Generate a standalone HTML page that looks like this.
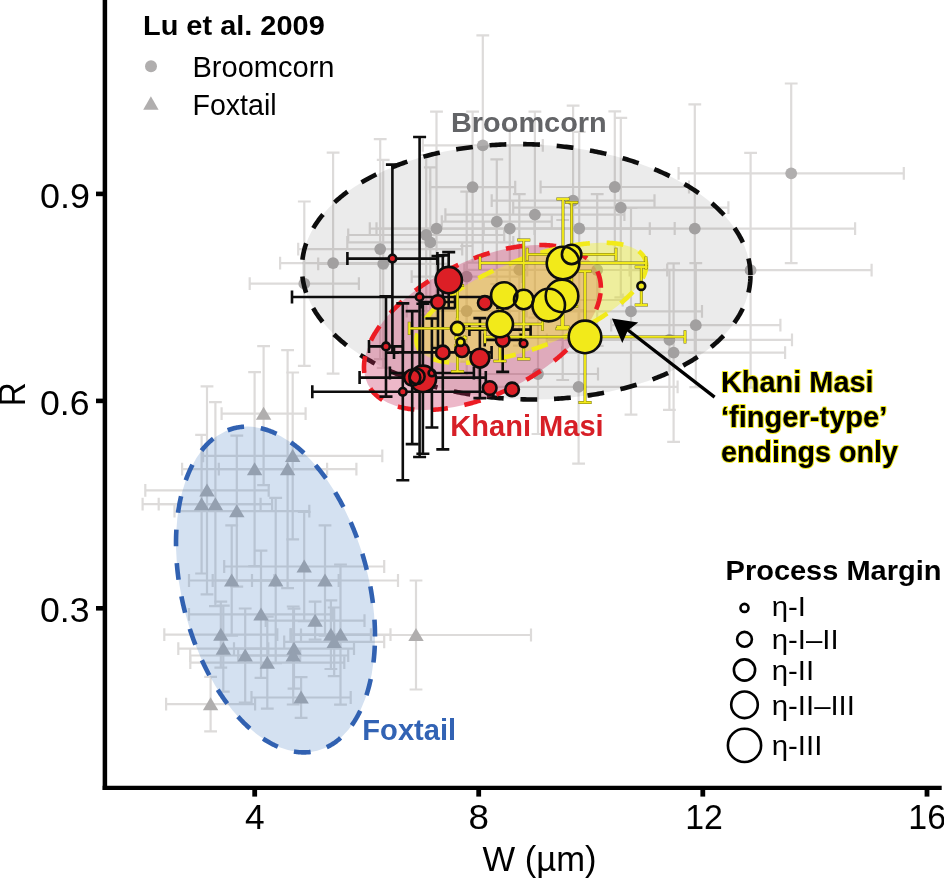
<!DOCTYPE html>
<html><head><meta charset="utf-8"><title>chart</title>
<style>html,body{margin:0;padding:0;background:#fff;overflow:hidden}svg{display:block;will-change:transform}</style>
</head><body>
<svg width="944" height="878" viewBox="0 0 944 878">
<rect width="944" height="878" fill="#fff"/>
<g id="graybars">
<path d="M221.6 413.6H305.6M221.6 407.2v12.8M305.6 407.2v12.8" stroke="#dddbda" stroke-width="2.2" fill="none"/><path d="M263.6 346.1V485.1M257.2 346.1h12.8M257.2 485.1h12.8" stroke="#dddbda" stroke-width="2.2" fill="none"/>
<path d="M182.1 469.2H327.1M182.1 462.8v12.8M327.1 462.8v12.8" stroke="#dddbda" stroke-width="2.2" fill="none"/><path d="M254.6 372.2V566.2M248.2 372.2h12.8M248.2 566.2h12.8" stroke="#dddbda" stroke-width="2.2" fill="none"/>
<path d="M203.1 455.9H382.3M203.1 449.5v12.8M382.3 449.5v12.8" stroke="#dddbda" stroke-width="2.2" fill="none"/><path d="M292.7 372.5V539.3M286.3 372.5h12.8M286.3 539.3h12.8" stroke="#dddbda" stroke-width="2.2" fill="none"/>
<path d="M218.8 469.2H356.4M218.8 462.8v12.8M356.4 462.8v12.8" stroke="#dddbda" stroke-width="2.2" fill="none"/><path d="M287.6 350.2V588.2M281.2 350.2h12.8M281.2 588.2h12.8" stroke="#dddbda" stroke-width="2.2" fill="none"/>
<path d="M145.3 490.3H268.7M145.3 483.9v12.8M268.7 483.9v12.8" stroke="#dddbda" stroke-width="2.2" fill="none"/><path d="M207.0 386.3V594.3M200.6 386.3h12.8M200.6 594.3h12.8" stroke="#dddbda" stroke-width="2.2" fill="none"/>
<path d="M142.6 504.2H260.6M142.6 497.8v12.8M260.6 497.8v12.8" stroke="#dddbda" stroke-width="2.2" fill="none"/><path d="M201.6 434.9V573.5M195.2 434.9h12.8M195.2 573.5h12.8" stroke="#dddbda" stroke-width="2.2" fill="none"/>
<path d="M158.7 504.2H272.1M158.7 497.8v12.8M272.1 497.8v12.8" stroke="#dddbda" stroke-width="2.2" fill="none"/><path d="M215.4 402.2V606.2M209.0 402.2h12.8M209.0 606.2h12.8" stroke="#dddbda" stroke-width="2.2" fill="none"/>
<path d="M174.5 511.1H309.3M174.5 504.7v12.8M309.3 504.7v12.8" stroke="#dddbda" stroke-width="2.2" fill="none"/><path d="M236.8 435.6V586.6M230.4 435.6h12.8M230.4 586.6h12.8" stroke="#dddbda" stroke-width="2.2" fill="none"/>
<path d="M224.2 566.5H384.2M224.2 560.1v12.8M384.2 560.1v12.8" stroke="#dddbda" stroke-width="2.2" fill="none"/><path d="M304.2 511.9V621.1M297.8 511.9h12.8M297.8 621.1h12.8" stroke="#dddbda" stroke-width="2.2" fill="none"/>
<path d="M189.0 580.5H274.4M189.0 574.1v12.8M274.4 574.1v12.8" stroke="#dddbda" stroke-width="2.2" fill="none"/><path d="M231.7 525.3V635.7M225.3 525.3h12.8M225.3 635.7h12.8" stroke="#dddbda" stroke-width="2.2" fill="none"/>
<path d="M212.7 580.5H338.7M212.7 574.1v12.8M338.7 574.1v12.8" stroke="#dddbda" stroke-width="2.2" fill="none"/><path d="M275.7 497.9V663.1M269.3 497.9h12.8M269.3 663.1h12.8" stroke="#dddbda" stroke-width="2.2" fill="none"/>
<path d="M252.0 580.5H398.0M252.0 574.1v12.8M398.0 574.1v12.8" stroke="#dddbda" stroke-width="2.2" fill="none"/><path d="M325.0 525.3V635.7M318.6 525.3h12.8M318.6 635.7h12.8" stroke="#dddbda" stroke-width="2.2" fill="none"/>
<path d="M189.0 614.3H333.0M189.0 607.9v12.8M333.0 607.9v12.8" stroke="#dddbda" stroke-width="2.2" fill="none"/><path d="M261.0 550.7V677.9M254.6 550.7h12.8M254.6 677.9h12.8" stroke="#dddbda" stroke-width="2.2" fill="none"/>
<path d="M265.7 620.7H364.5M265.7 614.3v12.8M364.5 614.3v12.8" stroke="#dddbda" stroke-width="2.2" fill="none"/><path d="M315.1 601.7V639.7M308.7 601.7h12.8M308.7 639.7h12.8" stroke="#dddbda" stroke-width="2.2" fill="none"/>
<path d="M164.3 634.7H277.3M164.3 628.3v12.8M277.3 628.3v12.8" stroke="#dddbda" stroke-width="2.2" fill="none"/><path d="M220.8 601.7V667.7M214.4 601.7h12.8M214.4 667.7h12.8" stroke="#dddbda" stroke-width="2.2" fill="none"/>
<path d="M290.9 634.7H370.9M290.9 628.3v12.8M370.9 628.3v12.8" stroke="#dddbda" stroke-width="2.2" fill="none"/><path d="M330.9 600.4V669.0M324.5 600.4h12.8M324.5 669.0h12.8" stroke="#dddbda" stroke-width="2.2" fill="none"/>
<path d="M290.5 634.7H390.5M290.5 628.3v12.8M390.5 628.3v12.8" stroke="#dddbda" stroke-width="2.2" fill="none"/><path d="M340.5 564.7V704.7M334.1 564.7h12.8M334.1 704.7h12.8" stroke="#dddbda" stroke-width="2.2" fill="none"/>
<path d="M284.2 641.8H384.2M284.2 635.4v12.8M384.2 635.4v12.8" stroke="#dddbda" stroke-width="2.2" fill="none"/><path d="M334.2 607.5V676.1M327.8 607.5h12.8M327.8 676.1h12.8" stroke="#dddbda" stroke-width="2.2" fill="none"/>
<path d="M178.3 648.7H268.3M178.3 642.3v12.8M268.3 642.3v12.8" stroke="#dddbda" stroke-width="2.2" fill="none"/><path d="M223.3 605.7V691.7M216.9 605.7h12.8M216.9 691.7h12.8" stroke="#dddbda" stroke-width="2.2" fill="none"/>
<path d="M190.2 655.5H300.2M190.2 649.1v12.8M300.2 649.1v12.8" stroke="#dddbda" stroke-width="2.2" fill="none"/><path d="M245.2 608.5V702.5M238.8 608.5h12.8M238.8 702.5h12.8" stroke="#dddbda" stroke-width="2.2" fill="none"/>
<path d="M234.0 648.7H354.0M234.0 642.3v12.8M354.0 642.3v12.8" stroke="#dddbda" stroke-width="2.2" fill="none"/><path d="M294.0 608.7V688.7M287.6 608.7h12.8M287.6 688.7h12.8" stroke="#dddbda" stroke-width="2.2" fill="none"/>
<path d="M238.2 655.5H348.2M238.2 649.1v12.8M348.2 649.1v12.8" stroke="#dddbda" stroke-width="2.2" fill="none"/><path d="M293.2 606.5V704.5M286.8 606.5h12.8M286.8 704.5h12.8" stroke="#dddbda" stroke-width="2.2" fill="none"/>
<path d="M190.3 662.6H344.3M190.3 656.2v12.8M344.3 656.2v12.8" stroke="#dddbda" stroke-width="2.2" fill="none"/><path d="M267.3 616.6V708.6M260.9 616.6h12.8M260.9 708.6h12.8" stroke="#dddbda" stroke-width="2.2" fill="none"/>
<path d="M251.5 697.5H350.7M251.5 691.1v12.8M350.7 691.1v12.8" stroke="#dddbda" stroke-width="2.2" fill="none"/><path d="M301.1 677.2V717.8M294.7 677.2h12.8M294.7 717.8h12.8" stroke="#dddbda" stroke-width="2.2" fill="none"/>
<path d="M166.1 704.1H255.1M166.1 697.7v12.8M255.1 697.7v12.8" stroke="#dddbda" stroke-width="2.2" fill="none"/><path d="M210.6 676.8V731.4M204.2 676.8h12.8M204.2 731.4h12.8" stroke="#dddbda" stroke-width="2.2" fill="none"/>
<path d="M301.0 635.0H531.0M301.0 628.6v12.8M531.0 628.6v12.8" stroke="#dddbda" stroke-width="2.2" fill="none"/><path d="M416.0 580.5V689.5M409.6 580.5h12.8M409.6 689.5h12.8" stroke="#dddbda" stroke-width="2.2" fill="none"/>
<path d="M422.8 145.4H542.8M422.8 139.0v12.8M542.8 139.0v12.8" stroke="#dddbda" stroke-width="2.2" fill="none"/><path d="M482.8 35.4V255.4M476.4 35.4h12.8M476.4 255.4h12.8" stroke="#dddbda" stroke-width="2.2" fill="none"/>
<path d="M430.0 187.1H515.2M430.0 180.7v12.8M515.2 180.7v12.8" stroke="#dddbda" stroke-width="2.2" fill="none"/><path d="M472.6 111.6V262.6M466.2 111.6h12.8M466.2 262.6h12.8" stroke="#dddbda" stroke-width="2.2" fill="none"/>
<path d="M441.8 221.7H551.8M441.8 215.3v12.8M551.8 215.3v12.8" stroke="#dddbda" stroke-width="2.2" fill="none"/><path d="M496.8 159.4V284.0M490.4 159.4h12.8M490.4 284.0h12.8" stroke="#dddbda" stroke-width="2.2" fill="none"/>
<path d="M369.8 228.6H649.8M369.8 222.2v12.8M649.8 222.2v12.8" stroke="#dddbda" stroke-width="2.2" fill="none"/><path d="M509.8 128.6V328.6M503.4 128.6h12.8M503.4 328.6h12.8" stroke="#dddbda" stroke-width="2.2" fill="none"/>
<path d="M376.5 228.6H496.5M376.5 222.2v12.8M496.5 222.2v12.8" stroke="#dddbda" stroke-width="2.2" fill="none"/><path d="M436.5 111.6V345.6M430.1 111.6h12.8M430.1 345.6h12.8" stroke="#dddbda" stroke-width="2.2" fill="none"/>
<path d="M348.2 235.0H504.2M348.2 228.6v12.8M504.2 228.6v12.8" stroke="#dddbda" stroke-width="2.2" fill="none"/><path d="M426.2 155.0V315.0M419.8 155.0h12.8M419.8 315.0h12.8" stroke="#dddbda" stroke-width="2.2" fill="none"/>
<path d="M347.3 242.4H513.3M347.3 236.0v12.8M513.3 236.0v12.8" stroke="#dddbda" stroke-width="2.2" fill="none"/><path d="M430.3 167.4V317.4M423.9 167.4h12.8M423.9 317.4h12.8" stroke="#dddbda" stroke-width="2.2" fill="none"/>
<path d="M298.2 249.1H462.2M298.2 242.7v12.8M462.2 242.7v12.8" stroke="#dddbda" stroke-width="2.2" fill="none"/><path d="M380.2 139.1V359.1M373.8 139.1h12.8M373.8 359.1h12.8" stroke="#dddbda" stroke-width="2.2" fill="none"/>
<path d="M318.2 263.9H448.2M318.2 257.5v12.8M448.2 257.5v12.8" stroke="#dddbda" stroke-width="2.2" fill="none"/><path d="M383.2 159.9V367.9M376.8 159.9h12.8M376.8 367.9h12.8" stroke="#dddbda" stroke-width="2.2" fill="none"/>
<path d="M280.1 263.1H386.1M280.1 256.7v12.8M386.1 256.7v12.8" stroke="#dddbda" stroke-width="2.2" fill="none"/><path d="M333.1 152.6V373.6M326.7 152.6h12.8M326.7 373.6h12.8" stroke="#dddbda" stroke-width="2.2" fill="none"/>
<path d="M249.7 283.7H358.9M249.7 277.3v12.8M358.9 277.3v12.8" stroke="#dddbda" stroke-width="2.2" fill="none"/><path d="M304.3 201.5V365.9M297.9 201.5h12.8M297.9 365.9h12.8" stroke="#dddbda" stroke-width="2.2" fill="none"/>
<path d="M411.7 276.6H521.7M411.7 270.2v12.8M521.7 270.2v12.8" stroke="#dddbda" stroke-width="2.2" fill="none"/><path d="M466.7 191.6V361.6M460.3 191.6h12.8M460.3 361.6h12.8" stroke="#dddbda" stroke-width="2.2" fill="none"/>
<path d="M406.7 311.0H526.7M406.7 304.6v12.8M526.7 304.6v12.8" stroke="#dddbda" stroke-width="2.2" fill="none"/><path d="M466.7 246.0V376.0M460.3 246.0h12.8M460.3 376.0h12.8" stroke="#dddbda" stroke-width="2.2" fill="none"/>
<path d="M464.3 269.9H574.3M464.3 263.5v12.8M574.3 263.5v12.8" stroke="#dddbda" stroke-width="2.2" fill="none"/><path d="M519.3 194.2V345.6M512.9 194.2h12.8M512.9 345.6h12.8" stroke="#dddbda" stroke-width="2.2" fill="none"/>
<path d="M445.4 214.6H624.4M445.4 208.2v12.8M624.4 208.2v12.8" stroke="#dddbda" stroke-width="2.2" fill="none"/><path d="M534.9 111.6V317.6M528.5 111.6h12.8M528.5 317.6h12.8" stroke="#dddbda" stroke-width="2.2" fill="none"/>
<path d="M491.7 200.6H654.5M491.7 194.2v12.8M654.5 194.2v12.8" stroke="#dddbda" stroke-width="2.2" fill="none"/><path d="M573.1 105.6V295.6M566.7 105.6h12.8M566.7 295.6h12.8" stroke="#dddbda" stroke-width="2.2" fill="none"/>
<path d="M483.7 228.5H674.7M483.7 222.1v12.8M674.7 222.1v12.8" stroke="#dddbda" stroke-width="2.2" fill="none"/><path d="M579.2 131.9V325.1M572.8 131.9h12.8M572.8 325.1h12.8" stroke="#dddbda" stroke-width="2.2" fill="none"/>
<path d="M540.6 187.0H689.0M540.6 180.6v12.8M689.0 180.6v12.8" stroke="#dddbda" stroke-width="2.2" fill="none"/><path d="M614.8 111.4V262.6M608.4 111.4h12.8M608.4 262.6h12.8" stroke="#dddbda" stroke-width="2.2" fill="none"/>
<path d="M513.2 207.6H728.4M513.2 201.2v12.8M728.4 201.2v12.8" stroke="#dddbda" stroke-width="2.2" fill="none"/><path d="M620.8 117.8V297.4M614.4 117.8h12.8M614.4 297.4h12.8" stroke="#dddbda" stroke-width="2.2" fill="none"/>
<path d="M534.5 228.6H855.1M534.5 222.2v12.8M855.1 222.2v12.8" stroke="#dddbda" stroke-width="2.2" fill="none"/><path d="M694.8 104.4V352.8M688.4 104.4h12.8M688.4 352.8h12.8" stroke="#dddbda" stroke-width="2.2" fill="none"/>
<path d="M678.6 173.3H903.8M678.6 166.9v12.8M903.8 166.9v12.8" stroke="#dddbda" stroke-width="2.2" fill="none"/><path d="M791.2 83.5V263.1M784.8 83.5h12.8M784.8 263.1h12.8" stroke="#dddbda" stroke-width="2.2" fill="none"/>
<path d="M629.6 270.2H871.6M629.6 263.8v12.8M871.6 263.8v12.8" stroke="#dddbda" stroke-width="2.2" fill="none"/><path d="M750.6 152.8V387.6M744.2 152.8h12.8M744.2 387.6h12.8" stroke="#dddbda" stroke-width="2.2" fill="none"/>
<path d="M560.0 311.3H702.0M560.0 304.9v12.8M702.0 304.9v12.8" stroke="#dddbda" stroke-width="2.2" fill="none"/><path d="M631.0 208.0V414.6M624.6 208.0h12.8M624.6 414.6h12.8" stroke="#dddbda" stroke-width="2.2" fill="none"/>
<path d="M611.2 325.2H780.4M611.2 318.8v12.8M780.4 318.8v12.8" stroke="#dddbda" stroke-width="2.2" fill="none"/><path d="M695.8 263.2V387.2M689.4 263.2h12.8M689.4 387.2h12.8" stroke="#dddbda" stroke-width="2.2" fill="none"/>
<path d="M546.8 339.8H792.0M546.8 333.4v12.8M792.0 333.4v12.8" stroke="#dddbda" stroke-width="2.2" fill="none"/><path d="M669.4 269.8V409.8M663.0 269.8h12.8M663.0 409.8h12.8" stroke="#dddbda" stroke-width="2.2" fill="none"/>
<path d="M562.1 352.6H785.1M562.1 346.2v12.8M785.1 346.2v12.8" stroke="#dddbda" stroke-width="2.2" fill="none"/><path d="M673.6 263.4V441.8M667.2 263.4h12.8M667.2 441.8h12.8" stroke="#dddbda" stroke-width="2.2" fill="none"/>
<path d="M479.6 386.9H677.6M479.6 380.5v12.8M677.6 380.5v12.8" stroke="#dddbda" stroke-width="2.2" fill="none"/><path d="M578.6 310.2V463.6M572.2 310.2h12.8M572.2 463.6h12.8" stroke="#dddbda" stroke-width="2.2" fill="none"/>
<path d="M478.0 374.0H598.0M478.0 367.6v12.8M598.0 367.6v12.8" stroke="#dddbda" stroke-width="2.2" fill="none"/><path d="M538.0 314.0V434.0M531.6 314.0h12.8M531.6 434.0h12.8" stroke="#dddbda" stroke-width="2.2" fill="none"/>
<path d="M502.7 300.0H622.7M502.7 293.6v12.8M622.7 293.6v12.8" stroke="#dddbda" stroke-width="2.2" fill="none"/><path d="M562.7 220.0V380.0M556.3 220.0h12.8M556.3 380.0h12.8" stroke="#dddbda" stroke-width="2.2" fill="none"/>
<path d="M527.2 270.0H667.2M527.2 263.6v12.8M667.2 263.6v12.8" stroke="#dddbda" stroke-width="2.2" fill="none"/><path d="M597.2 194.2V345.8M590.8 194.2h12.8M590.8 345.8h12.8" stroke="#dddbda" stroke-width="2.2" fill="none"/>
</g>
<g id="graypts">
<path d="M263.6 406.7L271.3 419.7H255.9Z" fill="#b0aeae"/>
<path d="M254.6 462.3L262.3 475.3H246.9Z" fill="#b0aeae"/>
<path d="M292.7 449.0L300.4 462.0H285.0Z" fill="#b0aeae"/>
<path d="M287.6 462.3L295.3 475.3H279.9Z" fill="#b0aeae"/>
<path d="M207.0 483.4L214.7 496.4H199.3Z" fill="#b0aeae"/>
<path d="M201.6 497.3L209.3 510.3H193.9Z" fill="#b0aeae"/>
<path d="M215.4 497.3L223.1 510.3H207.7Z" fill="#b0aeae"/>
<path d="M236.8 504.2L244.5 517.2H229.1Z" fill="#b0aeae"/>
<path d="M304.2 559.6L311.9 572.6H296.5Z" fill="#b0aeae"/>
<path d="M231.7 573.6L239.4 586.6H224.0Z" fill="#b0aeae"/>
<path d="M275.7 573.6L283.4 586.6H268.0Z" fill="#b0aeae"/>
<path d="M325.0 573.6L332.7 586.6H317.3Z" fill="#b0aeae"/>
<path d="M261.0 607.4L268.7 620.4H253.3Z" fill="#b0aeae"/>
<path d="M315.1 613.8L322.8 626.8H307.4Z" fill="#b0aeae"/>
<path d="M220.8 627.8L228.5 640.8H213.1Z" fill="#b0aeae"/>
<path d="M330.9 627.8L338.6 640.8H323.2Z" fill="#b0aeae"/>
<path d="M340.5 627.8L348.2 640.8H332.8Z" fill="#b0aeae"/>
<path d="M334.2 634.9L341.9 647.9H326.5Z" fill="#b0aeae"/>
<path d="M223.3 641.8L231.0 654.8H215.6Z" fill="#b0aeae"/>
<path d="M245.2 648.6L252.9 661.6H237.5Z" fill="#b0aeae"/>
<path d="M294.0 641.8L301.7 654.8H286.3Z" fill="#b0aeae"/>
<path d="M293.2 648.6L300.9 661.6H285.5Z" fill="#b0aeae"/>
<path d="M267.3 655.7L275.0 668.7H259.6Z" fill="#b0aeae"/>
<path d="M301.1 690.6L308.8 703.6H293.4Z" fill="#b0aeae"/>
<path d="M210.6 697.2L218.3 710.2H202.9Z" fill="#b0aeae"/>
<path d="M416.0 628.1L423.7 641.1H408.3Z" fill="#b0aeae"/>
<circle cx="482.8" cy="145.4" r="5.9" fill="#b0aeae"/>
<circle cx="472.6" cy="187.1" r="5.9" fill="#b0aeae"/>
<circle cx="496.8" cy="221.7" r="5.9" fill="#b0aeae"/>
<circle cx="509.8" cy="228.6" r="5.9" fill="#b0aeae"/>
<circle cx="436.5" cy="228.6" r="5.9" fill="#b0aeae"/>
<circle cx="426.2" cy="235.0" r="5.9" fill="#b0aeae"/>
<circle cx="430.3" cy="242.4" r="5.9" fill="#b0aeae"/>
<circle cx="380.2" cy="249.1" r="5.9" fill="#b0aeae"/>
<circle cx="383.2" cy="263.9" r="5.9" fill="#b0aeae"/>
<circle cx="333.1" cy="263.1" r="5.9" fill="#b0aeae"/>
<circle cx="304.3" cy="283.7" r="5.9" fill="#b0aeae"/>
<circle cx="466.7" cy="276.6" r="5.9" fill="#b0aeae"/>
<circle cx="466.7" cy="311.0" r="5.9" fill="#b0aeae"/>
<circle cx="519.3" cy="269.9" r="5.9" fill="#b0aeae"/>
<circle cx="534.9" cy="214.6" r="5.9" fill="#b0aeae"/>
<circle cx="573.1" cy="200.6" r="5.9" fill="#b0aeae"/>
<circle cx="579.2" cy="228.5" r="5.9" fill="#b0aeae"/>
<circle cx="614.8" cy="187.0" r="5.9" fill="#b0aeae"/>
<circle cx="620.8" cy="207.6" r="5.9" fill="#b0aeae"/>
<circle cx="694.8" cy="228.6" r="5.9" fill="#b0aeae"/>
<circle cx="791.2" cy="173.3" r="5.9" fill="#b0aeae"/>
<circle cx="750.6" cy="270.2" r="5.9" fill="#b0aeae"/>
<circle cx="631.0" cy="311.3" r="5.9" fill="#b0aeae"/>
<circle cx="695.8" cy="325.2" r="5.9" fill="#b0aeae"/>
<circle cx="669.4" cy="339.8" r="5.9" fill="#b0aeae"/>
<circle cx="673.6" cy="352.6" r="5.9" fill="#b0aeae"/>
<circle cx="578.6" cy="386.9" r="5.9" fill="#b0aeae"/>
<circle cx="538.0" cy="374.0" r="5.9" fill="#b0aeae"/>
<circle cx="562.7" cy="300.0" r="5.9" fill="#b0aeae"/>
<circle cx="597.2" cy="270.0" r="5.9" fill="#b0aeae"/>
</g>
<g id="ell">
<ellipse cx="275.5" cy="589.5" rx="166.5" ry="93.3" transform="rotate(75.5 275.5 589.5)" fill="#2a6ab8" fill-opacity="0.2"/>
<path d="M374.98 636.45L374.98 635.09L374.98 633.72L374.96 632.35L374.94 630.98L374.91 629.61L374.87 628.23L374.82 626.84L374.77 625.46L374.71 624.07L374.64 622.68L374.56 621.29L374.48 619.89L374.39 618.50L374.29 617.10L374.18 615.69L374.07 614.29L373.95 612.88L373.82 611.48L373.68 610.07L373.54 608.66L373.39 607.24L373.23 605.83L373.06 604.42L372.89 603.00L372.71 601.58L372.52 600.16L372.33 598.75L372.12 597.33L371.91 595.91L371.69 594.49L371.47 593.07L371.24 591.64L371.00 590.22L370.75 588.80L370.50 587.38L370.24 585.96L369.97 584.54L369.69 583.12L369.41 581.70L369.12 580.28L368.82 578.86L368.52 577.44L368.20 576.02L367.89 574.61L367.56 573.19L367.23 571.78L366.89 570.37L366.54 568.96L366.19 567.55L365.83 566.14L365.46 564.73L365.09 563.33L364.71 561.93L364.32 560.53L363.92 559.13L363.52 557.74L363.11 556.34L362.70 554.95L362.28 553.56L361.85 552.18L361.42 550.80L360.98 549.42L360.53 548.04L360.07 546.67L359.61 545.30L359.15 543.93L358.67 542.57L358.19 541.21L357.71 539.85L357.22 538.50L356.72 537.15L356.21 535.81L355.70 534.47L355.19 533.14L354.66 531.80L354.14 530.48L353.60 529.15L353.06 527.84L352.51 526.52L351.96 525.21L351.40 523.91L350.84 522.61L350.27 521.32L349.69 520.03L349.11 518.75L348.52 517.47L347.93 516.20L347.33 514.93L346.73 513.67L346.12 512.42L345.51 511.17L344.89 509.92L344.26 508.69L343.63 507.46L343.00 506.23L342.36 505.01L341.71 503.80L341.06 502.59L340.41 501.40L339.75 500.20L339.08 499.02L338.41 497.84L337.74 496.67L337.06 495.50L336.37 494.35L335.68 493.20L334.99 492.05L334.29 490.92L333.59 489.79L332.88 488.67L332.17 487.56L331.46 486.45L330.74 485.36L330.01 484.27L329.28 483.19L328.55 482.11L327.81 481.05L327.07 479.99L326.33 478.95L325.58 477.91L324.83 476.87L324.07 475.85L323.31 474.84L322.55 473.83L321.78 472.84L321.01 471.85L320.24 470.87L319.46 469.90L318.68 468.94L317.90 467.99L317.11 467.05L316.32 466.12L315.53 465.19L314.73 464.28L313.93 463.37L313.13 462.48L312.33 461.59L311.52 460.72L310.71 459.85L309.89 459.00L309.08 458.15L308.26 457.32L307.44 456.49L306.61 455.68L305.79 454.87L304.96 454.08L304.13 453.29L303.30 452.52L302.46 451.75L301.63 451.00L300.79 450.26L299.95 449.53L299.11 448.80L298.26 448.09L297.41 447.39L296.57 446.70L295.72 446.03L294.87 445.36L294.01 444.70L293.16 444.06L292.31 443.42L291.45 442.80L290.59 442.19L289.73 441.59L288.87 441.00L288.01 440.42L287.15 439.85L286.29 439.30L285.43 438.75L284.56 438.22L283.70 437.70L282.83 437.19L281.96 436.69L281.10 436.20L280.23 435.73L279.36 435.27L278.50 434.82L277.63 434.38L276.76 433.95L275.89 433.53L275.02 433.13L274.16 432.74L273.29 432.36L272.42 431.99L271.55 431.63L270.68 431.29L269.82 430.96L268.95 430.64L268.09 430.33L267.22 430.04L266.36 429.75L265.49 429.48L264.63 429.22L263.77 428.97L262.90 428.74L262.04 428.52L261.18 428.31L260.32 428.11L259.47 427.92L258.61 427.75L257.76 427.59L256.90 427.44L256.05 427.30L255.20 427.18L254.35 427.07L253.50 426.97L252.66 426.88L251.81 426.81L250.97 426.75L250.13 426.70L249.29 426.66L248.46 426.63L247.62 426.62L246.79 426.62L245.96 426.63L245.13 426.66L244.31 426.70L243.48 426.74L242.66 426.81L241.84 426.88L241.03 426.97L240.21 427.07L239.40 427.18L238.60 427.30L237.79 427.44L236.99 427.59L236.19 427.75L235.39 427.92L234.60 428.11L233.81 428.30L233.03 428.51L232.24 428.74L231.46 428.97L230.68 429.22L229.91 429.48L229.14 429.75L228.38 430.03L227.61 430.33L226.85 430.63L226.10 430.95L225.35 431.28L224.60 431.63L223.85 431.98L223.11 432.35L222.38 432.73L221.65 433.12L220.92 433.53L220.19 433.94L219.48 434.37L218.76 434.81L218.05 435.26L217.34 435.72L216.64 436.20L215.94 436.68L215.25 437.18L214.56 437.69L213.88 438.21L213.20 438.74L212.52 439.29L211.85 439.84L211.19 440.41L210.53 440.99L209.87 441.58L209.22 442.18L208.58 442.79L207.94 443.41L207.30 444.05L206.67 444.69L206.05 445.35L205.43 446.01L204.82 446.69L204.21 447.38L203.61 448.08L203.01 448.79L202.42 449.51L201.83 450.25L201.25 450.99L200.68 451.74L200.11 452.50L199.54 453.28L198.99 454.06L198.43 454.86L197.89 455.66L197.35 456.48L196.81 457.30L196.28 458.14L195.76 458.98L195.25 459.84L194.74 460.70L194.23 461.58L193.74 462.46L193.24 463.36L192.76 464.26L192.28 465.18L191.81 466.10L191.34 467.03L190.88 467.97L190.43 468.92L189.98 469.89L189.54 470.85L189.11 471.83L188.68 472.82L188.26 473.82L187.85 474.82L187.44 475.84L187.04 476.86L186.64 477.89L186.26 478.93L185.88 479.98L185.50 481.03L185.14 482.10L184.78 483.17L184.42 484.25L184.08 485.34L183.74 486.44L183.41 487.54L183.08 488.65L182.76 489.77L182.45 490.90L182.15 492.04L181.85 493.18L181.56 494.33L181.28 495.48L181.01 496.65L180.74 497.82L180.48 499.00L180.22 500.18L179.98 501.38L179.74 502.57L179.51 503.78L179.28 504.99L179.07 506.21L178.86 507.43L178.65 508.67L178.46 509.90L178.27 511.15L178.09 512.40L177.92 513.65L177.75 514.91L177.60 516.18L177.45 517.45L177.30 518.73L177.17 520.01L177.04 521.30L176.92 522.59L176.81 523.89L176.70 525.19L176.60 526.50L176.51 527.81L176.43 529.13L176.35 530.45L176.29 531.78L176.23 533.11L176.17 534.45L176.13 535.79L176.09 537.13L176.06 538.48L176.04 539.83L176.02 541.19L176.02 542.55L176.02 543.91L176.02 545.28L176.04 546.65L176.06 548.02L176.09 549.39L176.13 550.77L176.18 552.16L176.23 553.54L176.29 554.93L176.36 556.32L176.44 557.71L176.52 559.11L176.61 560.50L176.71 561.90L176.82 563.31L176.93 564.71L177.05 566.12L177.18 567.52L177.32 568.93L177.46 570.34L177.61 571.76L177.77 573.17L177.94 574.58L178.11 576.00L178.29 577.42L178.48 578.84L178.67 580.25L178.88 581.67L179.09 583.09L179.31 584.51L179.53 585.93L179.76 587.36L180.00 588.78L180.25 590.20L180.50 591.62L180.76 593.04L181.03 594.46L181.31 595.88L181.59 597.30L181.88 598.72L182.18 600.14L182.48 601.56L182.80 602.98L183.11 604.39L183.44 605.81L183.77 607.22L184.11 608.63L184.46 610.04L184.81 611.45L185.17 612.86L185.54 614.27L185.91 615.67L186.29 617.07L186.68 618.47L187.08 619.87L187.48 621.26L187.89 622.66L188.30 624.05L188.72 625.44L189.15 626.82L189.58 628.20L190.02 629.58L190.47 630.96L190.93 632.33L191.39 633.70L191.85 635.07L192.33 636.43L192.81 637.79L193.29 639.15L193.78 640.50L194.28 641.85L194.79 643.19L195.30 644.53L195.81 645.86L196.34 647.20L196.86 648.52L197.40 649.85L197.94 651.16L198.49 652.48L199.04 653.79L199.60 655.09L200.16 656.39L200.73 657.68L201.31 658.97L201.89 660.25L202.48 661.53L203.07 662.80L203.67 664.07L204.27 665.33L204.88 666.58L205.49 667.83L206.11 669.08L206.74 670.31L207.37 671.54L208.00 672.77L208.64 673.99L209.29 675.20L209.94 676.41L210.59 677.60L211.25 678.80L211.92 679.98L212.59 681.16L213.26 682.33L213.94 683.50L214.63 684.65L215.32 685.80L216.01 686.95L216.71 688.08L217.41 689.21L218.12 690.33L218.83 691.44L219.54 692.55L220.26 693.64L220.99 694.73L221.72 695.81L222.45 696.89L223.19 697.95L223.93 699.01L224.67 700.05L225.42 701.09L226.17 702.13L226.93 703.15L227.69 704.16L228.45 705.17L229.22 706.16L229.99 707.15L230.76 708.13L231.54 709.10L232.32 710.06L233.10 711.01L233.89 711.95L234.68 712.88L235.47 713.81L236.27 714.72L237.07 715.63L237.87 716.52L238.67 717.41L239.48 718.28L240.29 719.15L241.11 720.00L241.92 720.85L242.74 721.68L243.56 722.51L244.39 723.32L245.21 724.13L246.04 724.92L246.87 725.71L247.70 726.48L248.54 727.25L249.37 728.00L250.21 728.74L251.05 729.47L251.89 730.20L252.74 730.91L253.59 731.61L254.43 732.30L255.28 732.97L256.13 733.64L256.99 734.30L257.84 734.94L258.69 735.58L259.55 736.20L260.41 736.81L261.27 737.41L262.13 738.00L262.99 738.58L263.85 739.15L264.71 739.70L265.57 740.25L266.44 740.78L267.30 741.30L268.17 741.81L269.04 742.31L269.90 742.80L270.77 743.27L271.64 743.73L272.50 744.18L273.37 744.62L274.24 745.05L275.11 745.47L275.98 745.87L276.84 746.26L277.71 746.64L278.58 747.01L279.45 747.37L280.32 747.71L281.18 748.04L282.05 748.36L282.91 748.67L283.78 748.96L284.64 749.25L285.51 749.52L286.37 749.78L287.23 750.03L288.10 750.26L288.96 750.48L289.82 750.69L290.68 750.89L291.53 751.08L292.39 751.25L293.24 751.41L294.10 751.56L294.95 751.70L295.80 751.82L296.65 751.93L297.50 752.03L298.34 752.12L299.19 752.19L300.03 752.25L300.87 752.30L301.71 752.34L302.54 752.37L303.38 752.38L304.21 752.38L305.04 752.37L305.87 752.34L306.69 752.30L307.52 752.26L308.34 752.19L309.16 752.12L309.97 752.03L310.79 751.93L311.60 751.82L312.40 751.70L313.21 751.56L314.01 751.41L314.81 751.25L315.61 751.08L316.40 750.89L317.19 750.70L317.97 750.49L318.76 750.26L319.54 750.03L320.32 749.78L321.09 749.52L321.86 749.25L322.62 748.97L323.39 748.67L324.15 748.37L324.90 748.05L325.65 747.72L326.40 747.37L327.15 747.02L327.89 746.65L328.62 746.27L329.35 745.88L330.08 745.47L330.81 745.06L331.52 744.63L332.24 744.19L332.95 743.74L333.66 743.28L334.36 742.80L335.06 742.32L335.75 741.82L336.44 741.31L337.12 740.79L337.80 740.26L338.48 739.71L339.15 739.16L339.81 738.59L340.47 738.01L341.13 737.42L341.78 736.82L342.42 736.21L343.06 735.59L343.70 734.95L344.33 734.31L344.95 733.65L345.57 732.99L346.18 732.31L346.79 731.62L347.39 730.92L347.99 730.21L348.58 729.49L349.17 728.75L349.75 728.01L350.32 727.26L350.89 726.50L351.46 725.72L352.01 724.94L352.57 724.14L353.11 723.34L353.65 722.52L354.19 721.70L354.72 720.86L355.24 720.02L355.75 719.16L356.26 718.30L356.77 717.42L357.26 716.54L357.76 715.64L358.24 714.74L358.72 713.82L359.19 712.90L359.66 711.97L360.12 711.03L360.57 710.08L361.02 709.11L361.46 708.15L361.89 707.17L362.32 706.18L362.74 705.18L363.15 704.18L363.56 703.16L363.96 702.14L364.36 701.11L364.74 700.07L365.12 699.02L365.50 697.97L365.86 696.90L366.22 695.83L366.58 694.75L366.92 693.66L367.26 692.56L367.59 691.46L367.92 690.35L368.24 689.23L368.55 688.10L368.85 686.96L369.15 685.82L369.44 684.67L369.72 683.52L369.99 682.35L370.26 681.18L370.52 680.00L370.78 678.82L371.02 677.62L371.26 676.43L371.49 675.22L371.72 674.01L371.93 672.79L372.14 671.57L372.35 670.33L372.54 669.10L372.73 667.85L372.91 666.60L373.08 665.35L373.25 664.09L373.40 662.82L373.55 661.55L373.70 660.27L373.83 658.99L373.96 657.70L374.08 656.41L374.19 655.11L374.30 653.81L374.40 652.50L374.49 651.19L374.57 649.87L374.65 648.55L374.71 647.22L374.77 645.89L374.83 644.55L374.87 643.21L374.91 641.87L374.94 640.52L374.96 639.17L374.98 637.81L374.98 636.45" fill="none" stroke="#3161b1" stroke-width="4.6" stroke-dasharray="16.8 16.8"/>
<ellipse cx="526.2" cy="271.8" rx="224.3" ry="127.6" transform="rotate(1.4 526.2 271.8)" fill="#000" fill-opacity="0.078"/>
<path d="M750.45 275.05L750.44 273.94L750.41 272.82L750.36 271.71L750.29 270.60L750.21 269.48L750.10 268.37L749.99 267.25L749.85 266.14L749.70 265.03L749.53 263.92L749.34 262.80L749.14 261.69L748.92 260.58L748.68 259.47L748.43 258.37L748.16 257.26L747.87 256.15L747.57 255.05L747.25 253.94L746.91 252.84L746.55 251.74L746.18 250.64L745.79 249.54L745.39 248.44L744.97 247.35L744.53 246.26L744.07 245.17L743.60 244.08L743.11 242.99L742.61 241.91L742.08 240.82L741.55 239.75L740.99 238.67L740.42 237.59L739.83 236.52L739.23 235.45L738.61 234.38L737.98 233.32L737.32 232.26L736.66 231.20L735.97 230.15L735.27 229.10L734.56 228.05L733.83 227.00L733.08 225.96L732.32 224.92L731.54 223.89L730.74 222.86L729.93 221.83L729.11 220.81L728.26 219.79L727.41 218.77L726.54 217.76L725.65 216.75L724.75 215.75L723.83 214.75L722.90 213.76L721.95 212.76L720.99 211.78L720.01 210.80L719.02 209.82L718.01 208.85L716.99 207.88L715.96 206.92L714.91 205.96L713.84 205.01L712.76 204.06L711.67 203.12L710.56 202.19L709.44 201.25L708.31 200.33L707.16 199.41L705.99 198.49L704.82 197.58L703.63 196.68L702.42 195.78L701.21 194.89L699.98 194.00L698.73 193.12L697.48 192.25L696.21 191.38L694.92 190.52L693.63 189.66L692.32 188.81L691.00 187.97L689.67 187.13L688.32 186.30L686.96 185.48L685.59 184.66L684.21 183.85L682.81 183.04L681.41 182.24L679.99 181.45L678.56 180.67L677.12 179.89L675.66 179.12L674.20 178.36L672.72 177.60L671.24 176.86L669.74 176.11L668.23 175.38L666.71 174.65L665.18 173.93L663.64 173.22L662.08 172.52L660.52 171.82L658.95 171.13L657.37 170.45L655.78 169.78L654.17 169.11L652.56 168.45L650.94 167.80L649.31 167.16L647.67 166.53L646.02 165.90L644.36 165.28L642.69 164.67L641.02 164.07L639.33 163.47L637.64 162.89L635.93 162.31L634.22 161.74L632.50 161.18L630.78 160.63L629.04 160.09L627.30 159.55L625.55 159.02L623.79 158.51L622.02 158.00L620.25 157.50L618.47 157.00L616.68 156.52L614.89 156.05L613.09 155.58L611.28 155.12L609.47 154.67L607.65 154.24L605.82 153.81L603.99 153.38L602.15 152.97L600.31 152.57L598.46 152.17L596.60 151.79L594.74 151.41L592.87 151.05L591.00 150.69L589.13 150.34L587.25 150.00L585.36 149.67L583.47 149.35L581.58 149.04L579.68 148.74L577.78 148.45L575.87 148.17L573.96 147.89L572.05 147.63L570.13 147.37L568.21 147.13L566.28 146.89L564.36 146.67L562.43 146.45L560.49 146.24L558.56 146.04L556.62 145.86L554.68 145.68L552.74 145.51L550.79 145.35L548.85 145.20L546.90 145.06L544.95 144.93L543.00 144.81L541.05 144.70L539.10 144.60L537.14 144.51L535.19 144.43L533.23 144.35L531.27 144.29L529.32 144.24L527.36 144.20L525.40 144.16L523.45 144.14L521.49 144.12L519.53 144.12L517.58 144.13L515.62 144.14L513.67 144.17L511.71 144.20L509.76 144.25L507.81 144.30L505.86 144.36L503.91 144.44L501.97 144.52L500.02 144.61L498.08 144.72L496.14 144.83L494.20 144.95L492.27 145.08L490.33 145.22L488.40 145.38L486.47 145.54L484.55 145.71L482.63 145.89L480.71 146.08L478.80 146.27L476.89 146.48L474.98 146.70L473.07 146.93L471.18 147.17L469.28 147.41L467.39 147.67L465.50 147.93L463.62 148.21L461.75 148.49L459.87 148.79L458.01 149.09L456.14 149.40L454.29 149.73L452.44 150.06L450.59 150.40L448.75 150.75L446.92 151.11L445.09 151.47L443.27 151.85L441.45 152.24L439.65 152.63L437.84 153.04L436.05 153.45L434.26 153.87L432.48 154.31L430.70 154.75L428.94 155.20L427.18 155.65L425.43 156.12L423.68 156.60L421.94 157.08L420.22 157.58L418.50 158.08L416.78 158.59L415.08 159.11L413.38 159.64L411.70 160.17L410.02 160.72L408.35 161.27L406.69 161.83L405.04 162.40L403.40 162.98L401.76 163.57L400.14 164.16L398.53 164.77L396.92 165.38L395.33 166.00L393.74 166.63L392.17 167.26L390.61 167.91L389.05 168.56L387.51 169.22L385.98 169.88L384.45 170.56L382.94 171.24L381.44 171.93L379.95 172.63L378.48 173.34L377.01 174.05L375.55 174.77L374.11 175.50L372.68 176.23L371.26 176.98L369.85 177.73L368.45 178.48L367.07 179.25L365.69 180.02L364.33 180.80L362.98 181.58L361.65 182.37L360.33 183.17L359.01 183.98L357.72 184.79L356.43 185.61L355.16 186.43L353.90 187.26L352.65 188.10L351.42 188.95L350.20 189.80L349.00 190.65L347.80 191.52L346.62 192.39L345.46 193.26L344.31 194.14L343.17 195.03L342.05 195.93L340.94 196.82L339.84 197.73L338.76 198.64L337.69 199.56L336.64 200.48L335.60 201.40L334.58 202.34L333.57 203.27L332.57 204.22L331.59 205.16L330.63 206.12L329.68 207.07L328.74 208.04L327.82 209.01L326.92 209.98L326.03 210.96L325.15 211.94L324.29 212.92L323.45 213.91L322.62 214.91L321.81 215.91L321.01 216.91L320.23 217.92L319.46 218.93L318.71 219.95L317.98 220.97L317.26 221.99L316.56 223.02L315.87 224.05L315.20 225.09L314.54 226.13L313.91 227.17L313.28 228.21L312.68 229.26L312.09 230.32L311.51 231.37L310.96 232.43L310.41 233.49L309.89 234.56L309.38 235.62L308.89 236.69L308.42 237.77L307.96 238.84L307.52 239.92L307.09 241.00L306.68 242.08L306.29 243.17L305.91 244.25L305.56 245.34L305.22 246.43L304.89 247.53L304.58 248.62L304.29 249.72L304.02 250.81L303.76 251.91L303.52 253.02L303.30 254.12L303.09 255.22L302.90 256.33L302.73 257.43L302.58 258.54L302.44 259.65L302.32 260.76L302.21 261.87L302.13 262.98L302.06 264.09L302.00 265.21L301.97 266.32L301.95 267.43L301.95 268.55L301.96 269.66L301.99 270.78L302.04 271.89L302.11 273.00L302.19 274.12L302.30 275.23L302.41 276.35L302.55 277.46L302.70 278.57L302.87 279.68L303.06 280.80L303.26 281.91L303.48 283.02L303.72 284.13L303.97 285.23L304.24 286.34L304.53 287.45L304.83 288.55L305.15 289.66L305.49 290.76L305.85 291.86L306.22 292.96L306.61 294.06L307.01 295.16L307.43 296.25L307.87 297.34L308.33 298.43L308.80 299.52L309.29 300.61L309.79 301.69L310.32 302.78L310.85 303.85L311.41 304.93L311.98 306.01L312.57 307.08L313.17 308.15L313.79 309.22L314.42 310.28L315.08 311.34L315.74 312.40L316.43 313.45L317.13 314.50L317.84 315.55L318.57 316.60L319.32 317.64L320.08 318.68L320.86 319.71L321.66 320.74L322.47 321.77L323.29 322.79L324.14 323.81L324.99 324.83L325.86 325.84L326.75 326.85L327.65 327.85L328.57 328.85L329.50 329.84L330.45 330.84L331.41 331.82L332.39 332.80L333.38 333.78L334.39 334.75L335.41 335.72L336.44 336.68L337.49 337.64L338.56 338.59L339.64 339.54L340.73 340.48L341.84 341.41L342.96 342.35L344.09 343.27L345.24 344.19L346.41 345.11L347.58 346.02L348.77 346.92L349.98 347.82L351.19 348.71L352.42 349.60L353.67 350.48L354.92 351.35L356.19 352.22L357.48 353.08L358.77 353.94L360.08 354.79L361.40 355.63L362.73 356.47L364.08 357.30L365.44 358.12L366.81 358.94L368.19 359.75L369.59 360.56L370.99 361.36L372.41 362.15L373.84 362.93L375.28 363.71L376.74 364.48L378.20 365.24L379.68 366.00L381.16 366.74L382.66 367.49L384.17 368.22L385.69 368.95L387.22 369.67L388.76 370.38L390.32 371.08L391.88 371.78L393.45 372.47L395.03 373.15L396.62 373.82L398.23 374.49L399.84 375.15L401.46 375.80L403.09 376.44L404.73 377.07L406.38 377.70L408.04 378.32L409.71 378.93L411.38 379.53L413.07 380.13L414.76 380.71L416.47 381.29L418.18 381.86L419.90 382.42L421.62 382.97L423.36 383.51L425.10 384.05L426.85 384.58L428.61 385.09L430.38 385.60L432.15 386.10L433.93 386.60L435.72 387.08L437.51 387.55L439.31 388.02L441.12 388.48L442.93 388.93L444.75 389.36L446.58 389.79L448.41 390.22L450.25 390.63L452.09 391.03L453.94 391.43L455.80 391.81L457.66 392.19L459.53 392.55L461.40 392.91L463.27 393.26L465.15 393.60L467.04 393.93L468.93 394.25L470.82 394.56L472.72 394.86L474.62 395.15L476.53 395.43L478.44 395.71L480.35 395.97L482.27 396.23L484.19 396.47L486.12 396.71L488.04 396.93L489.97 397.15L491.91 397.36L493.84 397.56L495.78 397.74L497.72 397.92L499.66 398.09L501.61 398.25L503.55 398.40L505.50 398.54L507.45 398.67L509.40 398.79L511.35 398.90L513.30 399.00L515.26 399.09L517.21 399.17L519.17 399.25L521.13 399.31L523.08 399.36L525.04 399.40L527.00 399.44L528.95 399.46L530.91 399.48L532.87 399.48L534.82 399.47L536.78 399.46L538.73 399.43L540.69 399.40L542.64 399.35L544.59 399.30L546.54 399.24L548.49 399.16L550.43 399.08L552.38 398.99L554.32 398.88L556.26 398.77L558.20 398.65L560.13 398.52L562.07 398.38L564.00 398.22L565.93 398.06L567.85 397.89L569.77 397.71L571.69 397.52L573.60 397.33L575.51 397.12L577.42 396.90L579.33 396.67L581.22 396.43L583.12 396.19L585.01 395.93L586.90 395.67L588.78 395.39L590.65 395.11L592.53 394.81L594.39 394.51L596.26 394.20L598.11 393.87L599.96 393.54L601.81 393.20L603.65 392.85L605.48 392.49L607.31 392.13L609.13 391.75L610.95 391.36L612.75 390.97L614.56 390.56L616.35 390.15L618.14 389.73L619.92 389.29L621.70 388.85L623.46 388.40L625.22 387.95L626.97 387.48L628.72 387.00L630.46 386.52L632.18 386.02L633.90 385.52L635.62 385.01L637.32 384.49L639.02 383.96L640.70 383.43L642.38 382.88L644.05 382.33L645.71 381.77L647.36 381.20L649.00 380.62L650.64 380.03L652.26 379.44L653.87 378.83L655.48 378.22L657.07 377.60L658.66 376.97L660.23 376.34L661.79 375.69L663.35 375.04L664.89 374.38L666.42 373.72L667.95 373.04L669.46 372.36L670.96 371.67L672.45 370.97L673.92 370.26L675.39 369.55L676.85 368.83L678.29 368.10L679.72 367.37L681.14 366.62L682.55 365.87L683.95 365.12L685.33 364.35L686.71 363.58L688.07 362.80L689.42 362.02L690.75 361.23L692.07 360.43L693.39 359.62L694.68 358.81L695.97 357.99L697.24 357.17L698.50 356.34L699.75 355.50L700.98 354.65L702.20 353.80L703.40 352.95L704.60 352.08L705.78 351.21L706.94 350.34L708.09 349.46L709.23 348.57L710.35 347.67L711.46 346.78L712.56 345.87L713.64 344.96L714.71 344.04L715.76 343.12L716.80 342.20L717.82 341.26L718.83 340.33L719.83 339.38L720.81 338.44L721.77 337.48L722.72 336.53L723.66 335.56L724.58 334.59L725.48 333.62L726.37 332.64L727.25 331.66L728.11 330.68L728.95 329.69L729.78 328.69L730.59 327.69L731.39 326.69L732.17 325.68L732.94 324.67L733.69 323.65L734.42 322.63L735.14 321.61L735.84 320.58L736.53 319.55L737.20 318.51L737.86 317.47L738.49 316.43L739.12 315.39L739.72 314.34L740.31 313.28L740.89 312.23L741.44 311.17L741.99 310.11L742.51 309.04L743.02 307.98L743.51 306.91L743.98 305.83L744.44 304.76L744.88 303.68L745.31 302.60L745.72 301.52L746.11 300.43L746.49 299.35L746.84 298.26L747.18 297.17L747.51 296.07L747.82 294.98L748.11 293.88L748.38 292.79L748.64 291.69L748.88 290.58L749.10 289.48L749.31 288.38L749.50 287.27L749.67 286.17L749.82 285.06L749.96 283.95L750.08 282.84L750.19 281.73L750.27 280.62L750.34 279.51L750.40 278.39L750.43 277.28L750.45 276.17L750.45 275.05" fill="none" stroke="#0d0d0d" stroke-width="4.6" stroke-dasharray="16.8 16.8"/>
<ellipse cx="482.4" cy="327.5" rx="127.9" ry="66.9" transform="rotate(-26.3 482.4 327.5)" fill="#c8285a" fill-opacity="0.33"/>
<ellipse cx="531.3" cy="302.8" rx="121.8" ry="44.4" transform="rotate(-20.9 531.3 302.8)" fill="#f4f520" fill-opacity="0.38"/>
<path d="M600.83 287.65L600.83 287.02L600.81 286.40L600.79 285.78L600.76 285.16L600.72 284.54L600.67 283.93L600.61 283.32L600.54 282.71L600.47 282.11L600.38 281.51L600.29 280.91L600.18 280.32L600.07 279.73L599.95 279.14L599.82 278.56L599.68 277.98L599.53 277.41L599.37 276.84L599.21 276.27L599.03 275.71L598.85 275.15L598.66 274.60L598.45 274.05L598.24 273.50L598.03 272.96L597.80 272.42L597.56 271.89L597.31 271.36L597.06 270.83L596.80 270.31L596.53 269.79L596.25 269.28L595.96 268.77L595.66 268.27L595.35 267.77L595.04 267.28L594.71 266.79L594.38 266.30L594.04 265.82L593.69 265.34L593.33 264.87L592.97 264.41L592.59 263.94L592.21 263.49L591.82 263.04L591.42 262.59L591.01 262.15L590.60 261.71L590.17 261.28L589.74 260.85L589.30 260.43L588.85 260.01L588.39 259.60L587.93 259.19L587.45 258.79L586.97 258.40L586.48 258.01L585.99 257.62L585.48 257.24L584.97 256.86L584.45 256.50L583.92 256.13L583.38 255.77L582.84 255.42L582.29 255.07L581.73 254.73L581.16 254.39L580.59 254.06L580.01 253.74L579.42 253.42L578.82 253.10L578.22 252.79L577.61 252.49L576.99 252.19L576.36 251.90L575.73 251.62L575.09 251.34L574.44 251.06L573.79 250.79L573.13 250.53L572.46 250.28L571.79 250.02L571.11 249.78L570.42 249.54L569.72 249.31L569.02 249.08L568.31 248.86L567.60 248.64L566.88 248.44L566.15 248.23L565.42 248.04L564.68 247.85L563.93 247.66L563.18 247.48L562.42 247.31L561.65 247.14L560.88 246.98L560.11 246.83L559.32 246.68L558.53 246.54L557.74 246.40L556.94 246.27L556.13 246.15L555.32 246.03L554.50 245.92L553.68 245.82L552.85 245.72L552.02 245.62L551.18 245.54L550.34 245.46L549.49 245.38L548.63 245.32L547.78 245.26L546.91 245.20L546.04 245.15L545.17 245.11L544.29 245.07L543.41 245.04L542.52 245.02L541.62 245.00L540.73 244.99L539.83 244.99L538.92 244.99L538.01 245.00L537.10 245.01L536.18 245.03L535.25 245.06L534.33 245.09L533.40 245.13L532.46 245.18L531.52 245.23L530.58 245.29L529.63 245.35L528.68 245.42L527.73 245.50L526.78 245.58L525.82 245.67L524.85 245.77L523.89 245.87L522.92 245.98L521.94 246.09L520.97 246.21L519.99 246.34L519.01 246.47L518.02 246.61L517.04 246.75L516.05 246.90L515.05 247.06L514.06 247.23L513.06 247.40L512.06 247.57L511.06 247.75L510.06 247.94L509.05 248.13L508.04 248.33L507.03 248.54L506.02 248.75L505.01 248.97L503.99 249.19L502.98 249.42L501.96 249.66L500.94 249.90L499.92 250.15L498.89 250.40L497.87 250.66L496.84 250.93L495.82 251.20L494.79 251.48L493.76 251.76L492.73 252.05L491.70 252.34L490.67 252.64L489.64 252.95L488.61 253.26L487.58 253.58L486.54 253.90L485.51 254.23L484.48 254.56L483.44 254.90L482.41 255.25L481.38 255.60L480.34 255.95L479.31 256.31L478.28 256.68L477.25 257.05L476.21 257.43L475.18 257.81L474.15 258.20L473.12 258.60L472.09 258.99L471.06 259.40L470.03 259.81L469.00 260.22L467.98 260.64L466.95 261.07L465.93 261.50L464.91 261.93L463.88 262.37L462.86 262.81L461.85 263.26L460.83 263.72L459.81 264.18L458.80 264.64L457.79 265.11L456.78 265.58L455.77 266.06L454.76 266.55L453.76 267.03L452.76 267.53L451.76 268.02L450.76 268.52L449.77 269.03L448.77 269.54L447.79 270.05L446.80 270.57L445.81 271.10L444.83 271.62L443.85 272.16L442.88 272.69L441.91 273.23L440.94 273.78L439.97 274.33L439.01 274.88L438.05 275.43L437.09 276.00L436.14 276.56L435.19 277.13L434.24 277.70L433.30 278.28L432.36 278.86L431.42 279.44L430.49 280.03L429.57 280.62L428.64 281.21L427.73 281.81L426.81 282.41L425.90 283.02L424.99 283.62L424.09 284.24L423.19 284.85L422.30 285.47L421.41 286.09L420.53 286.71L419.65 287.34L418.78 287.97L417.91 288.61L417.04 289.24L416.18 289.88L415.33 290.52L414.48 291.17L413.64 291.82L412.80 292.47L411.96 293.12L411.14 293.78L410.31 294.44L409.50 295.10L408.68 295.76L407.88 296.43L407.08 297.09L406.28 297.76L405.49 298.44L404.71 299.11L403.93 299.79L403.16 300.47L402.40 301.15L401.64 301.83L400.89 302.52L400.14 303.21L399.40 303.89L398.67 304.59L397.94 305.28L397.22 305.97L396.50 306.67L395.79 307.37L395.09 308.06L394.40 308.77L393.71 309.47L393.03 310.17L392.35 310.88L391.68 311.58L391.02 312.29L390.37 313.00L389.72 313.71L389.08 314.42L388.45 315.13L387.82 315.84L387.21 316.55L386.59 317.27L385.99 317.98L385.39 318.70L384.81 319.41L384.22 320.13L383.65 320.85L383.08 321.57L382.52 322.29L381.97 323.00L381.43 323.72L380.89 324.44L380.36 325.16L379.84 325.88L379.33 326.60L378.82 327.32L378.33 328.04L377.84 328.76L377.36 329.48L376.88 330.20L376.42 330.92L375.96 331.64L375.51 332.36L375.07 333.08L374.64 333.80L374.21 334.51L373.80 335.23L373.39 335.95L372.99 336.66L372.60 337.38L372.21 338.09L371.84 338.81L371.47 339.52L371.12 340.23L370.77 340.94L370.43 341.65L370.09 342.36L369.77 343.07L369.45 343.78L369.15 344.48L368.85 345.19L368.56 345.89L368.28 346.59L368.01 347.29L367.75 347.99L367.49 348.68L367.24 349.38L367.01 350.07L366.78 350.76L366.56 351.45L366.35 352.14L366.15 352.83L365.96 353.51L365.77 354.20L365.60 354.88L365.43 355.55L365.27 356.23L365.12 356.90L364.98 357.58L364.85 358.24L364.73 358.91L364.62 359.58L364.52 360.24L364.42 360.90L364.34 361.56L364.26 362.21L364.19 362.86L364.13 363.51L364.08 364.16L364.04 364.80L364.01 365.44L363.99 366.08L363.97 366.72L363.97 367.35L363.97 367.98L363.99 368.60L364.01 369.22L364.04 369.84L364.08 370.46L364.13 371.07L364.19 371.68L364.26 372.29L364.33 372.89L364.42 373.49L364.51 374.09L364.62 374.68L364.73 375.27L364.85 375.86L364.98 376.44L365.12 377.02L365.27 377.59L365.43 378.16L365.59 378.73L365.77 379.29L365.95 379.85L366.14 380.40L366.35 380.95L366.56 381.50L366.77 382.04L367.00 382.58L367.24 383.11L367.49 383.64L367.74 384.17L368.00 384.69L368.27 385.21L368.55 385.72L368.84 386.23L369.14 386.73L369.45 387.23L369.76 387.72L370.09 388.21L370.42 388.70L370.76 389.18L371.11 389.66L371.47 390.13L371.83 390.59L372.21 391.06L372.59 391.51L372.98 391.96L373.38 392.41L373.79 392.85L374.20 393.29L374.63 393.72L375.06 394.15L375.50 394.57L375.95 394.99L376.41 395.40L376.87 395.81L377.35 396.21L377.83 396.60L378.32 396.99L378.81 397.38L379.32 397.76L379.83 398.14L380.35 398.50L380.88 398.87L381.42 399.23L381.96 399.58L382.51 399.93L383.07 400.27L383.64 400.61L384.21 400.94L384.79 401.26L385.38 401.58L385.98 401.90L386.58 402.21L387.19 402.51L387.81 402.81L388.44 403.10L389.07 403.38L389.71 403.66L390.36 403.94L391.01 404.21L391.67 404.47L392.34 404.72L393.01 404.98L393.69 405.22L394.38 405.46L395.08 405.69L395.78 405.92L396.49 406.14L397.20 406.36L397.92 406.56L398.65 406.77L399.38 406.96L400.12 407.15L400.87 407.34L401.62 407.52L402.38 407.69L403.15 407.86L403.92 408.02L404.69 408.17L405.48 408.32L406.27 408.46L407.06 408.60L407.86 408.73L408.67 408.85L409.48 408.97L410.30 409.08L411.12 409.18L411.95 409.28L412.78 409.38L413.62 409.46L414.46 409.54L415.31 409.62L416.17 409.68L417.02 409.74L417.89 409.80L418.76 409.85L419.63 409.89L420.51 409.93L421.39 409.96L422.28 409.98L423.18 410.00L424.07 410.01L424.97 410.01L425.88 410.01L426.79 410.00L427.70 409.99L428.62 409.97L429.55 409.94L430.47 409.91L431.40 409.87L432.34 409.82L433.28 409.77L434.22 409.71L435.17 409.65L436.12 409.58L437.07 409.50L438.02 409.42L438.98 409.33L439.95 409.23L440.91 409.13L441.88 409.02L442.86 408.91L443.83 408.79L444.81 408.66L445.79 408.53L446.78 408.39L447.76 408.25L448.75 408.10L449.75 407.94L450.74 407.77L451.74 407.60L452.74 407.43L453.74 407.25L454.74 407.06L455.75 406.87L456.76 406.67L457.77 406.46L458.78 406.25L459.79 406.03L460.81 405.81L461.82 405.58L462.84 405.34L463.86 405.10L464.88 404.85L465.91 404.60L466.93 404.34L467.96 404.07L468.98 403.80L470.01 403.52L471.04 403.24L472.07 402.95L473.10 402.66L474.13 402.36L475.16 402.05L476.19 401.74L477.22 401.42L478.26 401.10L479.29 400.77L480.32 400.44L481.36 400.10L482.39 399.75L483.42 399.40L484.46 399.05L485.49 398.69L486.52 398.32L487.55 397.95L488.59 397.57L489.62 397.19L490.65 396.80L491.68 396.40L492.71 396.01L493.74 395.60L494.77 395.19L495.80 394.78L496.82 394.36L497.85 393.93L498.87 393.50L499.89 393.07L500.92 392.63L501.94 392.19L502.95 391.74L503.97 391.28L504.99 390.82L506.00 390.36L507.01 389.89L508.02 389.42L509.03 388.94L510.04 388.45L511.04 387.97L512.04 387.47L513.04 386.98L514.04 386.48L515.03 385.97L516.03 385.46L517.01 384.95L518.00 384.43L518.99 383.90L519.97 383.38L520.95 382.84L521.92 382.31L522.89 381.77L523.86 381.22L524.83 380.67L525.79 380.12L526.75 379.57L527.71 379.00L528.66 378.44L529.61 377.87L530.56 377.30L531.50 376.72L532.44 376.14L533.38 375.56L534.31 374.97L535.23 374.38L536.16 373.79L537.07 373.19L537.99 372.59L538.90 371.98L539.81 371.38L540.71 370.76L541.61 370.15L542.50 369.53L543.39 368.91L544.27 368.29L545.15 367.66L546.02 367.03L546.89 366.39L547.76 365.76L548.62 365.12L549.47 364.48L550.32 363.83L551.16 363.18L552.00 362.53L552.84 361.88L553.66 361.22L554.49 360.56L555.30 359.90L556.12 359.24L556.92 358.57L557.72 357.91L558.52 357.24L559.31 356.56L560.09 355.89L560.87 355.21L561.64 354.53L562.40 353.85L563.16 353.17L563.91 352.48L564.66 351.79L565.40 351.11L566.13 350.41L566.86 349.72L567.58 349.03L568.30 348.33L569.01 347.63L569.71 346.94L570.40 346.23L571.09 345.53L571.77 344.83L572.45 344.12L573.12 343.42L573.78 342.71L574.43 342.00L575.08 341.29L575.72 340.58L576.35 339.87L576.98 339.16L577.59 338.45L578.21 337.73L578.81 337.02L579.41 336.30L579.99 335.59L580.58 334.87L581.15 334.15L581.72 333.43L582.28 332.71L582.83 332.00L583.37 331.28L583.91 330.56L584.44 329.84L584.96 329.12L585.47 328.40L585.98 327.68L586.47 326.96L586.96 326.24L587.44 325.52L587.92 324.80L588.38 324.08L588.84 323.36L589.29 322.64L589.73 321.92L590.16 321.20L590.59 320.49L591.00 319.77L591.41 319.05L591.81 318.34L592.20 317.62L592.59 316.91L592.96 316.19L593.33 315.48L593.68 314.77L594.03 314.06L594.37 313.35L594.71 312.64L595.03 311.93L595.35 311.22L595.65 310.52L595.95 309.81L596.24 309.11L596.52 308.41L596.79 307.71L597.05 307.01L597.31 306.32L597.56 305.62L597.79 304.93L598.02 304.24L598.24 303.55L598.45 302.86L598.65 302.17L598.84 301.49L599.03 300.80L599.20 300.12L599.37 299.45L599.53 298.77L599.68 298.10L599.82 297.42L599.95 296.76L600.07 296.09L600.18 295.42L600.28 294.76L600.38 294.10L600.46 293.44L600.54 292.79L600.61 292.14L600.67 291.49L600.72 290.84L600.76 290.20L600.79 289.56L600.81 288.92L600.83 288.28L600.83 287.65" fill="none" stroke="#ec1c24" stroke-width="4.6" stroke-dasharray="16.8 16.8"/>
<path d="M646.18 265.54L646.18 265.14L646.17 264.73L646.15 264.32L646.12 263.92L646.08 263.52L646.03 263.13L645.98 262.74L645.91 262.35L645.84 261.96L645.76 261.58L645.67 261.20L645.57 260.82L645.46 260.45L645.35 260.08L645.22 259.71L645.09 259.35L644.94 258.99L644.79 258.63L644.63 258.28L644.46 257.93L644.29 257.58L644.10 257.24L643.91 256.90L643.70 256.56L643.49 256.23L643.27 255.90L643.04 255.57L642.81 255.25L642.56 254.93L642.31 254.62L642.05 254.31L641.77 254.00L641.50 253.70L641.21 253.40L640.91 253.10L640.61 252.81L640.29 252.52L639.97 252.23L639.64 251.95L639.31 251.67L638.96 251.40L638.61 251.13L638.24 250.87L637.87 250.61L637.50 250.35L637.11 250.09L636.71 249.84L636.31 249.60L635.90 249.36L635.48 249.12L635.06 248.89L634.62 248.66L634.18 248.43L633.73 248.21L633.27 248.00L632.81 247.78L632.33 247.57L631.85 247.37L631.36 247.17L630.87 246.98L630.36 246.78L629.85 246.60L629.33 246.41L628.81 246.23L628.27 246.06L627.73 245.89L627.18 245.73L626.63 245.56L626.06 245.41L625.49 245.25L624.92 245.11L624.33 244.96L623.74 244.82L623.14 244.69L622.53 244.56L621.92 244.43L621.30 244.31L620.68 244.19L620.04 244.08L619.40 243.97L618.76 243.87L618.10 243.77L617.44 243.67L616.78 243.58L616.10 243.50L615.42 243.42L614.74 243.34L614.04 243.27L613.35 243.20L612.64 243.14L611.93 243.08L611.21 243.02L610.49 242.97L609.76 242.93L609.03 242.89L608.28 242.85L607.54 242.82L606.78 242.79L606.03 242.77L605.26 242.76L604.49 242.74L603.72 242.73L602.93 242.73L602.15 242.73L601.36 242.74L600.56 242.75L599.76 242.76L598.95 242.78L598.14 242.80L597.32 242.83L596.49 242.86L595.67 242.90L594.83 242.94L594.00 242.99L593.15 243.04L592.31 243.10L591.45 243.16L590.60 243.22L589.74 243.29L588.87 243.36L588.00 243.44L587.13 243.52L586.25 243.61L585.37 243.70L584.48 243.80L583.59 243.90L582.70 244.01L581.80 244.12L580.89 244.23L579.99 244.35L579.08 244.47L578.17 244.60L577.25 244.73L576.33 244.87L575.40 245.01L574.48 245.15L573.55 245.30L572.61 245.46L571.67 245.61L570.73 245.78L569.79 245.94L568.85 246.12L567.90 246.29L566.94 246.47L565.99 246.66L565.03 246.84L564.07 247.04L563.11 247.23L562.15 247.44L561.18 247.64L560.21 247.85L559.24 248.06L558.27 248.28L557.29 248.50L556.31 248.73L555.33 248.96L554.35 249.20L553.37 249.43L552.38 249.68L551.40 249.92L550.41 250.18L549.42 250.43L548.43 250.69L547.44 250.95L546.44 251.22L545.45 251.49L544.46 251.76L543.46 252.04L542.46 252.32L541.46 252.61L540.46 252.90L539.46 253.19L538.46 253.49L537.46 253.79L536.46 254.10L535.46 254.41L534.46 254.72L533.46 255.03L532.45 255.35L531.45 255.68L530.45 256.00L529.45 256.34L528.44 256.67L527.44 257.01L526.44 257.35L525.44 257.69L524.44 258.04L523.44 258.39L522.44 258.75L521.44 259.10L520.44 259.47L519.44 259.83L518.44 260.20L517.45 260.57L516.45 260.94L515.46 261.32L514.47 261.70L513.48 262.09L512.49 262.47L511.50 262.86L510.51 263.26L509.53 263.65L508.54 264.05L507.56 264.45L506.58 264.86L505.60 265.27L504.63 265.68L503.65 266.09L502.68 266.51L501.71 266.93L500.74 267.35L499.78 267.77L498.82 268.20L497.86 268.63L496.90 269.06L495.94 269.50L494.99 269.93L494.04 270.37L493.09 270.82L492.15 271.26L491.21 271.71L490.27 272.16L489.34 272.61L488.40 273.07L487.48 273.52L486.55 273.98L485.63 274.44L484.71 274.90L483.80 275.37L482.89 275.84L481.98 276.31L481.07 276.78L480.17 277.25L479.28 277.73L478.39 278.20L477.50 278.68L476.62 279.16L475.74 279.65L474.86 280.13L473.99 280.62L473.12 281.11L472.26 281.60L471.40 282.09L470.55 282.58L469.70 283.07L468.86 283.57L468.02 284.07L467.18 284.57L466.35 285.07L465.53 285.57L464.71 286.07L463.90 286.58L463.09 287.08L462.28 287.59L461.48 288.09L460.69 288.60L459.90 289.11L459.12 289.62L458.34 290.14L457.57 290.65L456.80 291.16L456.04 291.68L455.29 292.19L454.54 292.71L453.80 293.23L453.06 293.74L452.33 294.26L451.60 294.78L450.89 295.30L450.17 295.82L449.47 296.34L448.76 296.87L448.07 297.39L447.38 297.91L446.70 298.43L446.03 298.96L445.36 299.48L444.70 300.00L444.04 300.53L443.39 301.05L442.75 301.57L442.11 302.10L441.49 302.62L440.86 303.15L440.25 303.67L439.64 304.19L439.04 304.72L438.45 305.24L437.86 305.77L437.28 306.29L436.71 306.81L436.14 307.34L435.58 307.86L435.03 308.38L434.49 308.90L433.95 309.42L433.42 309.94L432.90 310.46L432.39 310.98L431.88 311.50L431.39 312.02L430.89 312.54L430.41 313.06L429.94 313.57L429.47 314.09L429.01 314.60L428.55 315.12L428.11 315.63L427.67 316.14L427.24 316.65L426.82 317.16L426.41 317.67L426.01 318.18L425.61 318.68L425.22 319.19L424.84 319.69L424.47 320.19L424.10 320.69L423.75 321.19L423.40 321.69L423.06 322.19L422.73 322.68L422.40 323.18L422.09 323.67L421.78 324.16L421.48 324.65L421.19 325.14L420.91 325.62L420.64 326.11L420.37 326.59L420.11 327.07L419.87 327.55L419.63 328.03L419.40 328.50L419.17 328.97L418.96 329.44L418.75 329.91L418.56 330.38L418.37 330.84L418.19 331.31L418.02 331.77L417.85 332.22L417.70 332.68L417.56 333.13L417.42 333.59L417.29 334.03L417.17 334.48L417.06 334.93L416.96 335.37L416.87 335.81L416.78 336.24L416.71 336.68L416.64 337.11L416.58 337.54L416.53 337.96L416.49 338.39L416.46 338.81L416.44 339.23L416.42 339.64L416.42 340.06L416.42 340.46L416.43 340.87L416.45 341.28L416.48 341.68L416.52 342.08L416.57 342.47L416.62 342.86L416.69 343.25L416.76 343.64L416.84 344.02L416.93 344.40L417.03 344.78L417.14 345.15L417.25 345.52L417.38 345.89L417.51 346.25L417.66 346.61L417.81 346.97L417.97 347.32L418.14 347.67L418.31 348.02L418.50 348.36L418.69 348.70L418.90 349.04L419.11 349.37L419.33 349.70L419.56 350.03L419.79 350.35L420.04 350.67L420.29 350.98L420.55 351.29L420.83 351.60L421.10 351.90L421.39 352.20L421.69 352.50L421.99 352.79L422.31 353.08L422.63 353.37L422.96 353.65L423.29 353.93L423.64 354.20L423.99 354.47L424.36 354.73L424.73 354.99L425.10 355.25L425.49 355.51L425.89 355.76L426.29 356.00L426.70 356.24L427.12 356.48L427.54 356.71L427.98 356.94L428.42 357.17L428.87 357.39L429.33 357.60L429.79 357.82L430.27 358.03L430.75 358.23L431.24 358.43L431.73 358.62L432.24 358.82L432.75 359.00L433.27 359.19L433.79 359.37L434.33 359.54L434.87 359.71L435.42 359.87L435.97 360.04L436.54 360.19L437.11 360.35L437.68 360.49L438.27 360.64L438.86 360.78L439.46 360.91L440.07 361.04L440.68 361.17L441.30 361.29L441.92 361.41L442.56 361.52L443.20 361.63L443.84 361.73L444.50 361.83L445.16 361.93L445.82 362.02L446.50 362.10L447.18 362.18L447.86 362.26L448.56 362.33L449.25 362.40L449.96 362.46L450.67 362.52L451.39 362.58L452.11 362.63L452.84 362.67L453.57 362.71L454.32 362.75L455.06 362.78L455.82 362.81L456.57 362.83L457.34 362.84L458.11 362.86L458.88 362.87L459.67 362.87L460.45 362.87L461.24 362.86L462.04 362.85L462.84 362.84L463.65 362.82L464.46 362.80L465.28 362.77L466.11 362.74L466.93 362.70L467.77 362.66L468.60 362.61L469.45 362.56L470.29 362.50L471.15 362.44L472.00 362.38L472.86 362.31L473.73 362.24L474.60 362.16L475.47 362.08L476.35 361.99L477.23 361.90L478.12 361.80L479.01 361.70L479.90 361.59L480.80 361.48L481.71 361.37L482.61 361.25L483.52 361.13L484.43 361.00L485.35 360.87L486.27 360.73L487.20 360.59L488.12 360.45L489.05 360.30L489.99 360.14L490.93 359.99L491.87 359.82L492.81 359.66L493.75 359.48L494.70 359.31L495.66 359.13L496.61 358.94L497.57 358.76L498.53 358.56L499.49 358.37L500.45 358.16L501.42 357.96L502.39 357.75L503.36 357.54L504.33 357.32L505.31 357.10L506.29 356.87L507.27 356.64L508.25 356.40L509.23 356.17L510.22 355.92L511.20 355.68L512.19 355.42L513.18 355.17L514.17 354.91L515.16 354.65L516.16 354.38L517.15 354.11L518.14 353.84L519.14 353.56L520.14 353.28L521.14 352.99L522.14 352.70L523.14 352.41L524.14 352.11L525.14 351.81L526.14 351.50L527.14 351.19L528.14 350.88L529.14 350.57L530.15 350.25L531.15 349.92L532.15 349.60L533.15 349.26L534.16 348.93L535.16 348.59L536.16 348.25L537.16 347.91L538.16 347.56L539.16 347.21L540.16 346.85L541.16 346.50L542.16 346.13L543.16 345.77L544.16 345.40L545.15 345.03L546.15 344.66L547.14 344.28L548.13 343.90L549.12 343.51L550.11 343.13L551.10 342.74L552.09 342.34L553.07 341.95L554.06 341.55L555.04 341.15L556.02 340.74L557.00 340.33L557.97 339.92L558.95 339.51L559.92 339.09L560.89 338.67L561.86 338.25L562.82 337.83L563.78 337.40L564.74 336.97L565.70 336.54L566.66 336.10L567.61 335.67L568.56 335.23L569.51 334.78L570.45 334.34L571.39 333.89L572.33 333.44L573.26 332.99L574.20 332.53L575.12 332.08L576.05 331.62L576.97 331.16L577.89 330.70L578.80 330.23L579.71 329.76L580.62 329.29L581.53 328.82L582.43 328.35L583.32 327.87L584.21 327.40L585.10 326.92L585.98 326.44L586.86 325.95L587.74 325.47L588.61 324.98L589.48 324.49L590.34 324.00L591.20 323.51L592.05 323.02L592.90 322.53L593.74 322.03L594.58 321.53L595.42 321.03L596.25 320.53L597.07 320.03L597.89 319.53L598.70 319.02L599.51 318.52L600.32 318.01L601.12 317.51L601.91 317.00L602.70 316.49L603.48 315.98L604.26 315.46L605.03 314.95L605.80 314.44L606.56 313.92L607.31 313.41L608.06 312.89L608.80 312.37L609.54 311.86L610.27 311.34L611.00 310.82L611.71 310.30L612.43 309.78L613.13 309.26L613.84 308.73L614.53 308.21L615.22 307.69L615.90 307.17L616.57 306.64L617.24 306.12L617.90 305.60L618.56 305.07L619.21 304.55L619.85 304.03L620.49 303.50L621.11 302.98L621.74 302.45L622.35 301.93L622.96 301.41L623.56 300.88L624.15 300.36L624.74 299.83L625.32 299.31L625.89 298.79L626.46 298.26L627.02 297.74L627.57 297.22L628.11 296.70L628.65 296.18L629.18 295.66L629.70 295.14L630.21 294.62L630.72 294.10L631.21 293.58L631.71 293.06L632.19 292.54L632.66 292.03L633.13 291.51L633.59 291.00L634.05 290.48L634.49 289.97L634.93 289.46L635.36 288.95L635.78 288.44L636.19 287.93L636.59 287.42L636.99 286.92L637.38 286.41L637.76 285.91L638.13 285.41L638.50 284.91L638.85 284.41L639.20 283.91L639.54 283.41L639.87 282.92L640.20 282.42L640.51 281.93L640.82 281.44L641.12 280.95L641.41 280.46L641.69 279.98L641.96 279.49L642.23 279.01L642.49 278.53L642.73 278.05L642.97 277.57L643.20 277.10L643.43 276.63L643.64 276.16L643.85 275.69L644.04 275.22L644.23 274.76L644.41 274.29L644.58 273.83L644.75 273.38L644.90 272.92L645.04 272.47L645.18 272.01L645.31 271.57L645.43 271.12L645.54 270.67L645.64 270.23L645.73 269.79L645.82 269.36L645.89 268.92L645.96 268.49L646.02 268.06L646.07 267.64L646.11 267.21L646.14 266.79L646.16 266.37L646.18 265.96L646.18 265.54" fill="none" stroke="#f2ea1a" stroke-width="4.6" stroke-dasharray="16.8 16.8"/>
</g>
<g id="redbars">
<path d="M347.4 258.6H437.4M347.4 252.1v13.0M437.4 252.1v13.0" stroke="#0d0d0d" stroke-width="2.6" fill="none"/><path d="M392.4 164.6V352.6M385.9 164.6h13.0M385.9 352.6h13.0" stroke="#0d0d0d" stroke-width="2.6" fill="none"/>
<path d="M292.0 297.0H547.2M292.0 290.5v13.0M547.2 290.5v13.0" stroke="#0d0d0d" stroke-width="2.6" fill="none"/><path d="M419.6 137.0V457.0M413.1 137.0h13.0M413.1 457.0h13.0" stroke="#0d0d0d" stroke-width="2.6" fill="none"/>
<path d="M448.7 252.1V308.1M442.2 252.1h13.0M442.2 308.1h13.0" stroke="#0d0d0d" stroke-width="2.6" fill="none"/>
<path d="M421.0 302.0H455.0M421.0 295.5v13.0M455.0 295.5v13.0" stroke="#0d0d0d" stroke-width="2.6" fill="none"/><path d="M438.0 256.0V348.0M431.5 256.0h13.0M431.5 348.0h13.0" stroke="#0d0d0d" stroke-width="2.6" fill="none"/>

<path d="M369.0 346.4H403.0M369.0 339.9v13.0M403.0 339.9v13.0" stroke="#0d0d0d" stroke-width="2.6" fill="none"/><path d="M386.0 296.2V396.6M379.5 296.2h13.0M379.5 396.6h13.0" stroke="#0d0d0d" stroke-width="2.6" fill="none"/>
<path d="M394.0 352.4H491.6M394.0 345.9v13.0M491.6 345.9v13.0" stroke="#0d0d0d" stroke-width="2.6" fill="none"/><path d="M442.8 255.4V449.4M436.3 255.4h13.0M436.3 449.4h13.0" stroke="#0d0d0d" stroke-width="2.6" fill="none"/>

<path d="M479.9 318.1V398.1M473.4 318.1h13.0M473.4 398.1h13.0" stroke="#0d0d0d" stroke-width="2.6" fill="none"/>
<path d="M484.7 339.9H520.7M484.7 333.4v13.0M520.7 333.4v13.0" stroke="#0d0d0d" stroke-width="2.6" fill="none"/><path d="M502.7 307.9V371.9M496.2 307.9h13.0M496.2 371.9h13.0" stroke="#0d0d0d" stroke-width="2.6" fill="none"/>

<path d="M422.9 303.8V453.8M416.4 303.8h13.0M416.4 453.8h13.0" stroke="#0d0d0d" stroke-width="2.6" fill="none"/>
<path d="M359.6 377.6H485.8M359.6 371.1v13.0M485.8 371.1v13.0" stroke="#0d0d0d" stroke-width="2.6" fill="none"/><path d="M412.2 311.1V444.1M405.7 311.1h13.0M405.7 444.1h13.0" stroke="#0d0d0d" stroke-width="2.6" fill="none"/>

<path d="M389.9 373.0H473.9M389.9 366.5v13.0M473.9 366.5v13.0" stroke="#0d0d0d" stroke-width="2.6" fill="none"/><path d="M431.9 318.5V427.5M425.4 318.5h13.0M425.4 427.5h13.0" stroke="#0d0d0d" stroke-width="2.6" fill="none"/>
<path d="M312.3 391.8H493.3M312.3 385.3v13.0M493.3 385.3v13.0" stroke="#0d0d0d" stroke-width="2.6" fill="none"/><path d="M402.8 303.4V480.2M396.3 303.4h13.0M396.3 480.2h13.0" stroke="#0d0d0d" stroke-width="2.6" fill="none"/>

<path d="M469.4 329.6H530.6M469.4 323.1v13.0M530.6 323.1v13.0" stroke="#0d0d0d" stroke-width="2.6" fill="none"/>

</g>
<g id="yelbars">
<path d="M480.0 263.0H646.0M480.0 256.4v13.2M646.0 256.4v13.2" stroke="#77720f" stroke-width="2.9" fill="none"/><path d="M563.0 199.0V327.0M556.4 199.0h13.2M556.4 327.0h13.2" stroke="#77720f" stroke-width="2.9" fill="none"/>
<path d="M527.2 254.4H616.0M527.2 247.8v13.2M616.0 247.8v13.2" stroke="#77720f" stroke-width="2.9" fill="none"/><path d="M571.6 202.4V306.4M565.0 202.4h13.2M565.0 306.4h13.2" stroke="#77720f" stroke-width="2.9" fill="none"/>
<path d="M562.0 262.9V328.9M555.4 262.9h13.2M555.4 328.9h13.2" stroke="#77720f" stroke-width="2.9" fill="none"/>
<path d="M538.7 305.1H558.7M538.7 298.5v13.2M558.7 298.5v13.2" stroke="#77720f" stroke-width="2.9" fill="none"/><path d="M548.7 295.1V315.1M542.1 295.1h13.2M542.1 315.1h13.2" stroke="#77720f" stroke-width="2.9" fill="none"/>

<path d="M508.7 299.5H538.7M508.7 292.9v13.2M538.7 292.9v13.2" stroke="#77720f" stroke-width="2.9" fill="none"/><path d="M523.7 240.0V359.0M517.1 240.0h13.2M517.1 359.0h13.2" stroke="#77720f" stroke-width="2.9" fill="none"/>
<path d="M457.3 324.1H542.5M457.3 317.5v13.2M542.5 317.5v13.2" stroke="#77720f" stroke-width="2.9" fill="none"/><path d="M499.9 287.1V361.1M493.3 287.1h13.2M493.3 361.1h13.2" stroke="#77720f" stroke-width="2.9" fill="none"/>
<path d="M485.0 336.9H685.0M485.0 330.3v13.2M685.0 330.3v13.2" stroke="#77720f" stroke-width="2.9" fill="none"/><path d="M585.0 271.3V402.5M578.4 271.3h13.2M578.4 402.5h13.2" stroke="#77720f" stroke-width="2.9" fill="none"/>
<path d="M409.2 328.4H505.8M409.2 321.8v13.2M505.8 321.8v13.2" stroke="#77720f" stroke-width="2.9" fill="none"/><path d="M457.5 285.4V371.4M450.9 285.4h13.2M450.9 371.4h13.2" stroke="#77720f" stroke-width="2.9" fill="none"/>
<path d="M456.6 342.0H464.6M456.6 335.4v13.2M464.6 335.4v13.2" stroke="#77720f" stroke-width="2.9" fill="none"/><path d="M460.6 338.0V346.0M454.0 338.0h13.2M454.0 346.0h13.2" stroke="#77720f" stroke-width="2.9" fill="none"/>
<path d="M641.3 267.0V305.0M634.7 267.0h13.2M634.7 305.0h13.2" stroke="#77720f" stroke-width="2.9" fill="none"/>
<path d="M480.0 263.0H646.0M480.0 256.8v12.4M646.0 256.8v12.4" stroke="#f2ea1a" stroke-width="1.9" fill="none"/><path d="M563.0 199.0V327.0M556.8 199.0h12.4M556.8 327.0h12.4" stroke="#f2ea1a" stroke-width="1.9" fill="none"/>
<path d="M527.2 254.4H616.0M527.2 248.2v12.4M616.0 248.2v12.4" stroke="#f2ea1a" stroke-width="1.9" fill="none"/><path d="M571.6 202.4V306.4M565.4 202.4h12.4M565.4 306.4h12.4" stroke="#f2ea1a" stroke-width="1.9" fill="none"/>
<path d="M562.0 262.9V328.9M555.8 262.9h12.4M555.8 328.9h12.4" stroke="#f2ea1a" stroke-width="1.9" fill="none"/>
<path d="M538.7 305.1H558.7M538.7 298.9v12.4M558.7 298.9v12.4" stroke="#f2ea1a" stroke-width="1.9" fill="none"/><path d="M548.7 295.1V315.1M542.5 295.1h12.4M542.5 315.1h12.4" stroke="#f2ea1a" stroke-width="1.9" fill="none"/>

<path d="M508.7 299.5H538.7M508.7 293.3v12.4M538.7 293.3v12.4" stroke="#f2ea1a" stroke-width="1.9" fill="none"/><path d="M523.7 240.0V359.0M517.5 240.0h12.4M517.5 359.0h12.4" stroke="#f2ea1a" stroke-width="1.9" fill="none"/>
<path d="M457.3 324.1H542.5M457.3 317.9v12.4M542.5 317.9v12.4" stroke="#f2ea1a" stroke-width="1.9" fill="none"/><path d="M499.9 287.1V361.1M493.7 287.1h12.4M493.7 361.1h12.4" stroke="#f2ea1a" stroke-width="1.9" fill="none"/>
<path d="M485.0 336.9H685.0M485.0 330.7v12.4M685.0 330.7v12.4" stroke="#f2ea1a" stroke-width="1.9" fill="none"/><path d="M585.0 271.3V402.5M578.8 271.3h12.4M578.8 402.5h12.4" stroke="#f2ea1a" stroke-width="1.9" fill="none"/>
<path d="M409.2 328.4H505.8M409.2 322.2v12.4M505.8 322.2v12.4" stroke="#f2ea1a" stroke-width="1.9" fill="none"/><path d="M457.5 285.4V371.4M451.3 285.4h12.4M451.3 371.4h12.4" stroke="#f2ea1a" stroke-width="1.9" fill="none"/>
<path d="M456.6 342.0H464.6M456.6 335.8v12.4M464.6 335.8v12.4" stroke="#f2ea1a" stroke-width="1.9" fill="none"/><path d="M460.6 338.0V346.0M454.4 338.0h12.4M454.4 346.0h12.4" stroke="#f2ea1a" stroke-width="1.9" fill="none"/>
<path d="M641.3 267.0V305.0M635.1 267.0h12.4M635.1 305.0h12.4" stroke="#f2ea1a" stroke-width="1.9" fill="none"/>
</g>
<g id="redpts">
<circle cx="392.4" cy="258.6" r="3.8" fill="#dc1f26"/>
<circle cx="419.6" cy="297.0" r="3.8" fill="#dc1f26"/>
<circle cx="448.7" cy="280.1" r="13.2" fill="#dc1f26"/>
<circle cx="438.0" cy="302.0" r="6.8" fill="#dc1f26"/>
<circle cx="484.8" cy="302.9" r="6.8" fill="#dc1f26"/>
<circle cx="386.0" cy="346.4" r="3.8" fill="#dc1f26"/>
<circle cx="442.8" cy="352.4" r="6.8" fill="#dc1f26"/>
<circle cx="462.0" cy="350.2" r="6.8" fill="#dc1f26"/>
<circle cx="479.9" cy="358.1" r="9.4" fill="#dc1f26"/>
<circle cx="502.7" cy="339.9" r="6.8" fill="#dc1f26"/>
<circle cx="523.6" cy="343.5" r="3.8" fill="#dc1f26"/>
<circle cx="422.9" cy="378.8" r="13.2" fill="#dc1f26"/>
<circle cx="412.2" cy="377.6" r="8.1" fill="#dc1f26"/>
<circle cx="417.0" cy="376.4" r="7.6" fill="#dc1f26"/>
<circle cx="431.9" cy="373.0" r="3.3" fill="#dc1f26"/>
<circle cx="402.8" cy="391.8" r="3.8" fill="#dc1f26"/>
<circle cx="489.7" cy="388.0" r="6.8" fill="#dc1f26"/>
<circle cx="500.0" cy="329.6" r="3" fill="#dc1f26"/>
<circle cx="512.1" cy="389.4" r="6.8" fill="#dc1f26"/>
<circle cx="392.4" cy="258.6" r="3.8" fill="none" stroke="#0d0d0d" stroke-width="2.6"/>
<circle cx="419.6" cy="297.0" r="3.8" fill="none" stroke="#0d0d0d" stroke-width="2.6"/>
<circle cx="448.7" cy="280.1" r="13.2" fill="none" stroke="#0d0d0d" stroke-width="2.6"/>
<circle cx="438.0" cy="302.0" r="6.8" fill="none" stroke="#0d0d0d" stroke-width="2.6"/>
<circle cx="484.8" cy="302.9" r="6.8" fill="none" stroke="#0d0d0d" stroke-width="2.6"/>
<circle cx="386.0" cy="346.4" r="3.8" fill="none" stroke="#0d0d0d" stroke-width="2.6"/>
<circle cx="442.8" cy="352.4" r="6.8" fill="none" stroke="#0d0d0d" stroke-width="2.6"/>
<circle cx="462.0" cy="350.2" r="6.8" fill="none" stroke="#0d0d0d" stroke-width="2.6"/>
<circle cx="479.9" cy="358.1" r="9.4" fill="none" stroke="#0d0d0d" stroke-width="2.6"/>
<circle cx="502.7" cy="339.9" r="6.8" fill="none" stroke="#0d0d0d" stroke-width="2.6"/>
<circle cx="523.6" cy="343.5" r="3.8" fill="none" stroke="#0d0d0d" stroke-width="2.6"/>
<circle cx="422.9" cy="378.8" r="13.2" fill="none" stroke="#0d0d0d" stroke-width="2.6"/>
<circle cx="412.2" cy="377.6" r="8.1" fill="none" stroke="#0d0d0d" stroke-width="2.6"/>
<circle cx="417.0" cy="376.4" r="7.6" fill="none" stroke="#0d0d0d" stroke-width="2.6"/>
<circle cx="431.9" cy="373.0" r="3.3" fill="none" stroke="#0d0d0d" stroke-width="2.6"/>
<circle cx="402.8" cy="391.8" r="3.8" fill="none" stroke="#0d0d0d" stroke-width="2.6"/>
<circle cx="489.7" cy="388.0" r="6.8" fill="none" stroke="#0d0d0d" stroke-width="2.6"/>
<circle cx="500.0" cy="329.6" r="3" fill="none" stroke="#0d0d0d" stroke-width="2.6"/>
<circle cx="512.1" cy="389.4" r="6.8" fill="none" stroke="#0d0d0d" stroke-width="2.6"/>
</g>
<g id="yelpts">
<circle cx="563.0" cy="263.0" r="16.3" fill="#f2ea1a"/>
<circle cx="571.6" cy="254.4" r="9.7" fill="#f2ea1a"/>
<circle cx="562.0" cy="295.9" r="16.3" fill="#f2ea1a"/>
<circle cx="548.7" cy="305.1" r="16.3" fill="#f2ea1a"/>
<circle cx="504.2" cy="295.4" r="13.1" fill="#f2ea1a"/>
<circle cx="523.7" cy="299.5" r="9.7" fill="#f2ea1a"/>
<circle cx="499.9" cy="324.1" r="13.1" fill="#f2ea1a"/>
<circle cx="585.0" cy="336.9" r="16.3" fill="#f2ea1a"/>
<circle cx="457.5" cy="328.4" r="6.5" fill="#f2ea1a"/>
<circle cx="460.6" cy="342.0" r="3.9" fill="#f2ea1a"/>
<circle cx="641.3" cy="286.0" r="3.9" fill="#f2ea1a"/>
<circle cx="563.0" cy="263.0" r="16.3" fill="none" stroke="#0d0d0d" stroke-width="2.6"/>
<circle cx="571.6" cy="254.4" r="9.7" fill="none" stroke="#0d0d0d" stroke-width="2.6"/>
<circle cx="562.0" cy="295.9" r="16.3" fill="none" stroke="#0d0d0d" stroke-width="2.6"/>
<circle cx="548.7" cy="305.1" r="16.3" fill="none" stroke="#0d0d0d" stroke-width="2.6"/>
<circle cx="504.2" cy="295.4" r="13.1" fill="none" stroke="#0d0d0d" stroke-width="2.6"/>
<circle cx="523.7" cy="299.5" r="9.7" fill="none" stroke="#0d0d0d" stroke-width="2.6"/>
<circle cx="499.9" cy="324.1" r="13.1" fill="none" stroke="#0d0d0d" stroke-width="2.6"/>
<circle cx="585.0" cy="336.9" r="16.3" fill="none" stroke="#0d0d0d" stroke-width="2.6"/>
<circle cx="457.5" cy="328.4" r="6.5" fill="none" stroke="#0d0d0d" stroke-width="2.6"/>
<circle cx="460.6" cy="342.0" r="3.9" fill="none" stroke="#0d0d0d" stroke-width="2.6"/>
<circle cx="641.3" cy="286.0" r="3.9" fill="none" stroke="#0d0d0d" stroke-width="2.6"/>
</g>
<g id="axes" stroke="#000" fill="none">
<path d="M104.9 0V790.1" stroke-width="4.5"/>
<path d="M102.65 787.9H941.7" stroke-width="4.4"/>
<path d="M96 193.9H104" stroke-width="4.6"/>
<path d="M96 400.9H104" stroke-width="4.6"/>
<path d="M96 608.3H104" stroke-width="4.6"/>
<path d="M254.7 788V796.6" stroke-width="4.8"/>
<path d="M478.7 788V796.6" stroke-width="4.8"/>
<path d="M702.8 788V796.6" stroke-width="4.8"/>
<path d="M927.0 788V796.6" stroke-width="4.8"/>
</g>
<g font-family="Liberation Sans, sans-serif" fill="#000">
<text transform="translate(39.96 207.50) scale(1.0264 1)" font-size="35" font-weight="normal" >0.9</text>
<text transform="translate(39.97 414.50) scale(1.0185 1)" font-size="35" font-weight="normal" >0.6</text>
<text transform="translate(39.97 621.90) scale(1.0185 1)" font-size="35" font-weight="normal" >0.3</text>
<text transform="translate(244.99 829.00) scale(1.0084 1)" font-size="35" font-weight="normal" >4</text>
<text transform="translate(468.38 829.00) scale(1.0517 1)" font-size="35" font-weight="normal" >8</text>
<text transform="translate(685.19 829.00) scale(0.9679 1)" font-size="35" font-weight="normal" >12</text>
<text transform="translate(908.28 829.00) scale(0.9697 1)" font-size="35" font-weight="normal" >16</text>
<text transform="translate(482.55 870.70) scale(0.9889 1)" font-size="35" font-weight="normal" >W (µm)</text>
<text transform="translate(25 394.2) rotate(-90) scale(0.9 1)" font-size="37" text-anchor="middle">R</text>
<text transform="translate(142.97 34.70) scale(1.0157 1)" font-size="28.5" font-weight="bold" >Lu et al. 2009</text>
<text transform="translate(192.48 76.90) scale(0.9916 1)" font-size="29.3" font-weight="normal" >Broomcorn</text>
<text transform="translate(192.51 115.00) scale(0.9785 1)" font-size="29.2" font-weight="normal" >Foxtail</text>
<circle cx="151" cy="66.2" r="6" fill="#b0aeae"/>
<path d="M150.9 96.2L158.6 109.8H143.2Z" fill="#b0aeae"/>
<text transform="translate(450.98 131.70) scale(1.0211 1)" font-size="28.3" font-weight="bold" fill="#636467">Broomcorn</text>
<text transform="translate(450.37 435.50) scale(1.0156 1)" font-size="28.6" font-weight="bold" fill="#d71f27">Khani Masi</text>
<text transform="translate(362.36 739.90) scale(1.0031 1)" font-size="29" font-weight="bold" fill="#3263b4">Foxtail</text>
<text transform="translate(720.97 391.80) scale(0.9976 1)" font-size="29" font-weight="bold" fill="#000" stroke="#f2ea1a" stroke-width="2.0" stroke-linejoin="round" paint-order="stroke">Khani Masi</text>
<text transform="translate(720.96 426.90) scale(1.0030 1)" font-size="29" font-weight="bold" fill="#000" stroke="#f2ea1a" stroke-width="2.0" stroke-linejoin="round" paint-order="stroke">‘finger-type’</text>
<text transform="translate(721.05 461.50) scale(0.9894 1)" font-size="29" font-weight="bold" fill="#000" stroke="#f2ea1a" stroke-width="2.0" stroke-linejoin="round" paint-order="stroke">endings only</text>
<text transform="translate(725.57 579.60) scale(1.0172 1)" font-size="28.5" font-weight="bold" >Process Margin</text>
<circle cx="744.5" cy="607.9" r="4.0" fill="#fff" stroke="#000" stroke-width="2.6"/>
<text transform="translate(771.73 616.30) scale(1.0300 1)" font-size="28.5" font-weight="normal" >η-I</text>
<circle cx="744.5" cy="639.3" r="7.4" fill="#fff" stroke="#000" stroke-width="2.6"/>
<text transform="translate(771.73 648.50) scale(1.0300 1)" font-size="28.5" font-weight="normal" >η-I–II</text>
<circle cx="744.5" cy="670" r="10.6" fill="#fff" stroke="#000" stroke-width="2.6"/>
<text transform="translate(771.73 679.90) scale(1.0300 1)" font-size="28.5" font-weight="normal" >η-II</text>
<circle cx="744.5" cy="704.8" r="13.3" fill="#fff" stroke="#000" stroke-width="2.6"/>
<text transform="translate(771.73 714.80) scale(1.0300 1)" font-size="28.5" font-weight="normal" >η-II–III</text>
<circle cx="744.5" cy="745.4" r="16.6" fill="#fff" stroke="#000" stroke-width="2.6"/>
<text transform="translate(771.73 755.40) scale(1.0300 1)" font-size="28.5" font-weight="normal" >η-III</text>
</g>
<path d="M714.6 397.1L624 327" stroke="#000" stroke-width="3.3" fill="none"/>
<path d="M611.9 318.5L638.2 322.5L627.8 330.4L622.3 343Z" fill="#000"/>
</svg>
</body></html>
